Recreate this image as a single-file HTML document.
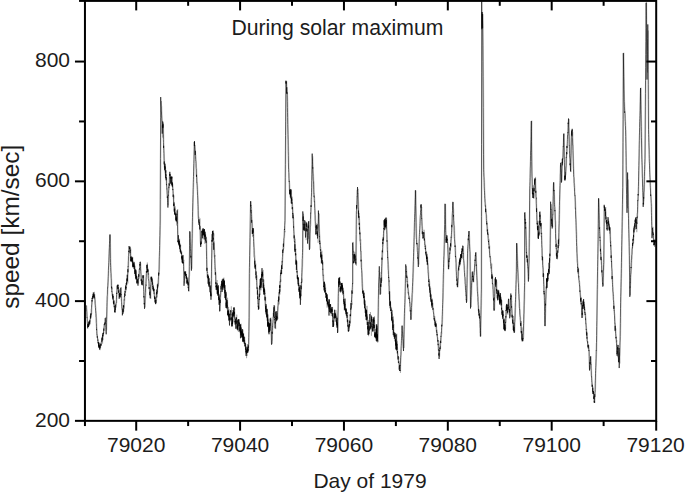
<!DOCTYPE html>
<html><head><meta charset="utf-8"><style>
html,body{margin:0;padding:0;background:#fff;}
body{width:685px;height:492px;overflow:hidden;}
svg{display:block;}
text{font-family:"Liberation Sans",sans-serif;fill:#1c1c1c;}
</style></head><body>
<svg width="685" height="492" viewBox="0 0 685 492">
<rect width="685" height="492" fill="#fff"/>
<polyline points="86.8,305.4 87.0,309.3 87.2,311.0 87.4,315.4 87.6,318.1 87.8,323.0 88.0,324.6 88.1,326.3 88.3,326.7 88.5,324.0 88.7,322.7 89.0,325.1 89.2,323.9 89.4,320.9 89.6,323.4 89.8,323.5 89.9,321.2 90.1,324.4 90.3,321.4 90.5,319.4 90.7,319.1 90.9,317.0 91.1,317.7 91.3,314.7 91.6,314.1 91.8,314.0 92.0,309.1 92.2,305.6 92.4,301.9 92.6,299.4 92.8,298.7 93.0,297.8 93.2,297.0 93.4,297.3 93.6,294.9 93.8,298.2 94.0,294.3 94.2,298.3 94.4,291.8 94.6,294.8 94.8,294.3 95.0,296.3 95.2,299.5 95.4,299.6 95.6,303.9 95.8,307.0 96.0,307.4 96.2,311.4 96.4,313.3 96.6,317.2 96.8,322.2 97.0,326.6 97.2,329.2 97.3,333.8 97.5,334.7 97.7,338.6 97.9,338.4 98.1,338.5 98.3,341.8 98.5,341.8 98.7,343.4 98.9,343.5 99.1,344.9 99.3,342.7 99.5,343.3 99.7,343.1 99.9,348.4 100.1,350.2 100.3,349.2 100.5,348.2 100.7,347.5 100.9,345.6 101.1,344.2 101.3,345.6 101.5,343.4 101.7,342.5 102.0,342.0 102.2,339.8 102.4,339.0 102.6,343.7 102.8,337.3 103.0,340.1 103.2,336.6 103.4,331.7 103.6,334.2 103.8,332.6 104.0,333.0 104.2,330.0 104.4,330.2 104.6,327.1 104.8,325.2 105.0,323.6 105.2,322.1 105.4,323.6 105.6,322.0 105.8,316.9 106.0,323.4 106.2,324.5 106.4,328.1 106.6,330.4 106.8,329.5 107.0,322.9 107.2,316.3 107.4,307.0 107.6,300.0 107.8,296.0 108.0,290.4 108.2,286.7 108.4,284.2 108.6,277.8 108.8,273.6 109.0,267.1 109.3,262.8 109.5,255.7 109.7,249.9 109.9,248.3 110.1,243.4 110.2,240.3 110.4,234.6 110.6,243.5 110.8,253.2 111.0,262.3 111.2,267.3 111.4,273.5 111.6,277.0 111.8,280.7 112.0,289.4 112.1,287.5 112.3,292.7 112.5,292.8 112.7,294.1 112.9,298.0 113.1,295.0 113.3,294.3 113.5,296.4 113.7,300.0 114.0,300.8 114.2,301.7 114.4,304.5 114.6,306.3 114.8,308.6 115.0,308.6 115.2,310.8 115.4,312.5 115.6,307.9 115.8,304.2 116.0,307.5 116.2,304.5 116.4,304.0 116.6,302.5 116.8,302.8 117.0,297.5 117.2,291.6 117.4,290.4 117.6,284.4 117.8,288.0 118.0,288.6 118.2,285.9 118.4,284.6 118.6,285.5 118.8,288.4 119.0,291.7 119.2,294.3 119.4,289.3 119.6,293.8 119.8,294.1 120.0,294.9 120.2,293.9 120.4,297.5 120.6,297.4 120.8,295.1 121.0,294.2 121.2,287.5 121.4,287.2 121.6,295.6 121.8,297.3 122.0,301.8 122.2,304.6 122.4,308.6 122.6,312.2 122.8,308.7 123.0,313.7 123.2,313.1 123.4,306.5 123.7,311.7 123.9,309.7 124.1,307.5 124.3,308.5 124.5,303.8 124.7,301.9 124.9,300.0 125.0,296.0 125.2,294.5 125.4,296.0 125.6,291.6 125.8,292.2 126.1,287.1 126.3,290.3 126.5,287.7 126.7,284.8 126.9,285.2 127.1,283.1 127.3,280.9 127.5,278.2 127.7,280.3 127.9,283.5 128.1,278.0 128.3,272.3 128.5,272.0 128.7,267.1 128.9,260.8 129.1,256.2 129.3,249.4 129.5,248.6 129.7,249.1 129.9,246.2 130.1,246.2 130.3,247.1 130.6,251.0 130.8,248.6 131.0,251.2 131.2,259.5 131.4,260.8 131.6,261.3 131.8,257.5 132.0,260.4 132.2,258.7 132.4,262.1 132.6,259.0 132.8,257.2 133.0,261.5 133.2,261.1 133.4,266.9 133.6,266.5 133.8,262.1 134.0,265.4 134.2,268.9 134.3,266.8 134.6,263.4 134.8,269.2 135.0,265.7 135.2,268.4 135.3,273.8 135.6,269.5 135.8,272.1 136.0,276.5 136.2,271.2 136.3,279.1 136.6,275.4 136.8,280.8 137.0,278.5 137.2,276.3 137.3,283.4 137.6,279.4 137.8,283.4 138.0,284.2 138.2,279.1 138.3,281.4 138.6,283.3 138.8,277.6 139.0,275.4 139.2,278.7 139.3,277.6 139.6,272.9 139.8,269.2 140.0,269.9 140.2,269.3 140.3,262.7 140.6,262.9 140.8,262.8 140.9,265.0 141.2,270.0 141.3,272.6 141.6,278.2 141.8,281.1 141.9,284.2 142.2,282.9 142.3,284.0 142.6,285.2 142.8,285.3 142.9,282.6 143.2,280.9 143.3,278.0 143.6,276.2 143.8,275.3 144.0,281.1 144.2,289.5 144.4,297.5 144.6,297.4 144.8,305.2 145.0,306.9 145.2,307.4 145.3,304.6 145.6,299.4 145.8,295.5 146.0,292.9 146.2,284.4 146.4,286.0 146.6,281.0 146.8,276.6 147.0,272.9 147.2,270.9 147.3,262.5 147.6,271.5 147.8,267.7 148.0,271.7 148.2,269.3 148.4,275.1 148.6,273.0 148.8,273.8 149.0,277.8 149.2,278.9 149.3,279.9 149.6,284.9 149.8,286.9 150.0,288.4 150.2,291.5 150.4,292.4 150.6,294.9 150.8,298.9 151.0,293.1 151.2,289.2 151.4,285.2 151.6,281.2 151.8,276.6 152.0,280.2 152.2,278.1 152.4,278.4 152.6,280.4 152.8,282.4 153.0,286.4 153.2,284.9 153.4,285.6 153.6,287.7 153.8,291.6 154.0,288.5 154.2,290.7 154.4,289.3 154.6,293.4 154.8,295.4 155.0,299.6 155.2,297.1 155.4,299.7 155.6,301.1 155.8,298.9 156.0,304.2 156.2,302.7 156.4,300.2 156.6,300.6 156.8,296.9 157.0,293.2 157.2,297.4 157.4,290.8 157.6,292.3 157.8,289.4 157.9,283.3 158.2,285.8 158.4,286.2 158.6,285.0 158.8,282.4 159.0,277.8 159.2,273.1 159.4,273.7 159.6,269.9 159.8,258.4 160.0,253.0 160.2,245.3 160.4,236.0 160.6,225.3 160.8,199.4 160.9,158.2 161.2,117.0 161.4,101.0 161.6,106.1 161.8,106.0 162.0,111.4 162.2,116.0 162.4,119.5 162.6,123.3 162.8,137.6 162.9,123.9 163.1,128.3 163.3,122.5 163.5,124.4 163.7,132.9 163.9,138.2 164.1,148.2 164.3,151.7 164.5,156.6 164.7,162.6 164.9,166.6 165.1,164.4 165.3,172.5 165.5,166.4 165.8,172.6 166.0,170.4 166.2,176.2 166.4,174.5 166.6,177.4 166.8,178.3 167.0,188.8 167.2,188.3 167.4,191.0 167.6,194.2 167.8,194.0 168.0,195.8 168.2,203.4 168.4,205.4 168.6,202.4 168.8,193.7 169.0,193.0 169.2,189.9 169.4,189.1 169.6,184.1 169.8,185.7 170.0,175.2 170.2,175.9 170.5,174.0 170.7,175.6 170.9,179.1 171.1,182.7 171.3,184.2 171.5,180.9 171.7,183.6 171.9,176.8 172.1,178.5 172.3,176.6 172.5,182.9 172.7,183.9 172.9,183.9 173.1,186.7 173.3,191.1 173.5,191.5 173.7,198.6 173.9,195.4 174.1,201.1 174.3,209.8 174.5,206.7 174.7,209.1 174.9,210.1 175.1,206.7 175.3,206.3 175.5,212.1 175.7,212.4 175.9,215.3 176.1,218.5 176.3,213.1 176.5,215.6 176.7,225.5 176.9,222.1 177.1,221.8 177.3,223.3 177.5,214.0 177.7,209.0 177.8,213.4 178.0,224.9 178.2,235.8 178.4,242.8 178.6,241.4 178.8,239.6 179.0,239.0 179.2,242.3 179.4,241.7 179.6,238.7 179.8,244.9 180.0,248.8 180.2,244.6 180.5,246.9 180.7,244.9 180.9,252.2 181.1,254.0 181.3,251.8 181.5,253.8 181.7,251.4 181.9,252.7 182.1,254.7 182.3,258.6 182.5,259.0 182.7,263.6 182.9,262.5 183.1,261.8 183.3,254.9 183.5,259.3 183.7,261.4 183.9,259.8 184.1,266.2 184.3,272.8 184.5,281.0 184.7,283.5 184.9,281.1 185.1,273.6 185.3,271.7 185.5,274.5 185.7,271.2 185.9,271.9 186.1,275.2 186.3,274.0 186.5,274.3 186.7,278.7 187.0,282.0 187.2,279.0 187.4,277.4 187.6,281.4 187.8,283.1 188.0,277.5 188.2,285.9 188.4,283.0 188.6,283.4 188.8,284.3 188.9,289.1 189.1,291.4 189.3,285.5 189.5,276.8 189.7,275.0 189.9,260.5 190.1,245.2 190.3,231.8 190.5,237.7 190.7,240.4 190.9,247.3 191.1,251.1 191.3,257.5 191.5,259.7 191.7,264.6 191.9,268.8 192.1,266.0 192.3,254.5 192.5,243.3 192.7,233.7 192.9,221.9 193.1,211.6 193.3,203.6 193.5,194.4 193.7,188.0 193.9,179.9 194.1,172.1 194.3,162.9 194.5,153.9 194.7,146.7 195.0,145.2 195.2,145.3 195.4,150.6 195.6,151.5 195.8,155.2 196.0,155.0 196.2,159.1 196.4,161.0 196.6,168.2 196.8,168.3 197.0,176.5 197.2,177.5 197.4,183.6 197.6,184.4 197.8,188.9 198.0,193.7 198.2,198.2 198.4,203.7 198.6,210.7 198.8,217.5 199.0,216.9 199.2,219.8 199.4,222.9 199.6,224.4 199.8,223.6 200.0,218.3 200.2,225.4 200.4,227.3 200.6,231.8 200.8,237.8 201.0,244.2 201.2,242.3 201.4,243.7 201.6,242.3 201.8,241.3 202.0,237.9 202.2,232.7 202.4,231.7 202.6,231.3 202.8,238.4 203.0,229.2 203.2,230.1 203.4,231.6 203.6,228.7 203.8,232.0 204.0,229.6 204.2,233.4 204.4,235.4 204.6,233.1 204.8,243.8 205.0,235.5 205.2,236.9 205.4,240.1 205.6,233.8 205.8,236.1 206.0,237.2 206.2,239.4 206.4,236.7 206.6,238.6 206.8,240.0 207.0,249.7 207.2,258.7 207.3,270.7 207.5,272.9 207.7,272.1 208.0,275.1 208.2,275.0 208.4,275.1 208.6,277.5 208.8,279.8 209.0,279.0 209.2,279.8 209.4,283.6 209.6,284.1 209.8,284.1 210.0,281.4 210.2,286.2 210.4,285.5 210.6,296.4 210.8,285.1 211.0,293.7 211.2,295.9 211.4,294.3 211.6,296.5 211.8,285.1 212.0,272.1 212.2,258.6 212.4,244.4 212.6,244.7 212.8,234.0 212.9,236.9 213.1,234.5 213.3,230.4 213.5,231.1 213.7,236.6 213.9,233.5 214.1,242.0 214.4,241.7 214.6,248.4 214.8,251.2 214.9,256.9 215.1,254.9 215.3,261.9 215.5,268.7 215.7,271.2 215.9,272.2 216.1,273.5 216.3,284.1 216.5,283.6 216.7,293.9 216.9,284.5 217.1,280.0 217.3,288.7 217.5,288.5 217.7,290.3 217.9,293.1 218.2,291.7 218.4,289.4 218.6,293.3 218.8,293.1 219.0,293.2 219.2,299.8 219.4,295.7 219.6,303.2 219.8,299.0 220.0,299.5 220.2,311.1 220.4,306.2 220.6,299.0 220.8,297.1 221.0,294.9 221.2,291.7 221.4,290.9 221.7,291.3 221.9,282.2 222.1,286.4 222.3,284.8 222.5,285.8 222.7,286.9 222.9,280.5 223.1,281.6 223.3,289.7 223.5,285.5 223.7,285.8 223.9,277.6 224.1,288.2 224.3,279.8 224.5,286.4 224.7,284.8 224.9,289.6 225.1,290.7 225.3,290.2 225.5,298.7 225.8,294.0 226.0,296.2 226.2,291.7 226.4,295.4 226.6,307.3 226.8,309.3 227.0,307.9 227.2,308.8 227.4,302.0 227.6,297.7 227.8,306.6 228.0,310.1 228.2,316.5 228.4,311.9 228.6,306.9 228.8,316.9 229.0,309.2 229.2,312.8 229.4,315.3 229.6,313.4 229.8,316.8 230.0,321.6 230.2,318.7 230.5,320.6 230.7,320.4 230.9,316.2 231.1,314.6 231.3,306.3 231.5,313.3 231.7,317.1 231.9,318.4 232.1,319.3 232.3,326.6 232.5,324.1 232.7,321.7 232.9,319.0 233.1,322.3 233.3,314.1 233.5,317.4 233.7,307.8 233.9,315.6 234.1,315.3 234.3,318.7 234.5,310.9 234.7,309.0 234.9,313.6 235.2,318.9 235.4,318.9 235.6,322.6 235.8,324.4 236.0,320.3 236.2,325.0 236.4,329.3 236.6,317.1 236.8,314.6 237.0,319.9 237.2,319.2 237.4,321.6 237.6,321.1 237.8,326.5 238.0,325.9 238.2,327.4 238.4,332.0 238.7,324.4 238.9,320.7 239.1,322.3 239.3,323.8 239.5,322.6 239.7,324.9 239.9,326.5 240.1,332.9 240.3,328.8 240.5,325.8 240.7,331.3 240.9,330.7 241.1,323.7 241.3,328.7 241.5,334.5 241.7,330.8 241.9,329.2 242.1,332.1 242.3,335.6 242.5,337.7 242.8,336.0 243.0,329.6 243.2,336.9 243.4,342.6 243.6,332.9 243.8,338.8 244.0,337.9 244.2,336.6 244.4,340.4 244.6,336.8 244.8,337.2 245.0,340.6 245.2,343.0 245.4,345.5 245.6,347.4 245.8,343.8 246.0,351.1 246.2,350.6 246.4,355.0 246.6,358.2 246.9,350.6 247.1,356.0 247.3,348.4 247.5,344.0 247.7,350.2 247.9,348.3 248.1,352.8 248.2,350.0 248.5,349.5 248.7,350.3 248.8,348.1 249.1,344.4 249.2,338.0 249.5,323.5 249.7,303.1 249.9,273.5 250.1,261.0 250.3,250.8 250.5,236.9 250.7,227.5 250.9,213.7 251.1,201.2 251.2,207.6 251.5,207.1 251.7,208.6 251.8,213.3 252.1,216.3 252.2,218.5 252.4,221.4 252.7,226.0 252.8,236.9 253.1,234.7 253.2,236.1 253.5,229.2 253.7,231.7 253.9,234.7 254.1,238.7 254.2,242.2 254.5,247.3 254.7,254.3 254.8,254.8 255.1,256.7 255.2,262.0 255.4,266.7 255.7,264.8 255.8,263.6 256.1,267.7 256.2,274.6 256.4,275.2 256.7,280.1 256.9,275.3 257.1,280.6 257.2,284.6 257.4,285.5 257.7,290.5 257.9,287.8 258.1,292.6 258.2,295.8 258.4,301.5 258.7,307.5 258.9,308.1 259.1,309.3 259.2,307.1 259.4,301.0 259.6,297.9 259.9,293.5 260.1,294.9 260.2,291.7 260.4,288.9 260.6,284.9 260.9,285.6 261.1,290.3 261.2,286.1 261.4,282.2 261.7,279.8 261.9,279.9 262.1,278.4 262.2,276.8 262.4,271.1 262.6,271.9 262.9,273.5 263.1,270.1 263.2,269.9 263.4,281.9 263.7,286.5 263.9,279.6 264.1,292.0 264.3,287.0 264.5,292.2 264.7,291.2 264.9,289.6 265.1,294.0 265.2,292.8 265.4,300.8 265.7,297.3 265.9,306.6 266.1,309.5 266.3,307.1 266.5,305.6 266.7,318.2 266.9,313.5 267.1,308.6 267.2,315.4 267.4,309.1 267.7,313.1 267.9,323.5 268.1,314.5 268.2,316.9 268.4,324.7 268.6,324.6 268.8,320.5 269.1,319.3 269.2,331.9 269.4,330.3 269.7,324.5 269.9,330.3 270.1,330.4 270.2,327.5 270.5,330.7 270.7,324.4 270.9,317.5 271.1,320.2 271.2,319.7 271.4,327.5 271.7,329.2 271.9,338.7 272.1,344.2 272.2,341.3 272.4,340.5 272.7,332.1 272.9,328.6 273.1,327.7 273.2,323.1 273.4,320.6 273.7,318.7 273.9,318.1 274.1,317.8 274.2,313.2 274.5,307.6 274.7,305.8 274.9,309.5 275.1,319.2 275.2,319.4 275.4,323.5 275.7,329.1 275.9,322.3 276.1,318.7 276.2,322.1 276.5,317.1 276.7,314.3 276.9,315.4 277.1,319.1 277.2,312.7 277.4,318.0 277.7,317.6 277.9,319.2 278.1,313.8 278.2,309.7 278.4,305.1 278.6,305.0 278.8,297.5 279.1,304.4 279.2,298.8 279.4,294.1 279.7,288.8 279.9,294.6 280.1,289.5 280.2,288.4 280.5,291.7 280.7,279.3 280.9,281.8 281.1,273.6 281.2,274.0 281.4,272.0 281.7,273.2 281.9,273.8 282.1,263.5 282.2,269.0 282.5,265.4 282.7,261.1 282.9,258.9 283.1,257.1 283.3,252.2 283.5,250.5 283.7,247.9 283.9,248.4 284.1,247.7 284.3,241.6 284.5,239.3 284.7,236.2 284.9,231.1 285.1,232.2 285.2,222.5 285.4,220.4 285.6,192.2 285.8,163.7 286.1,135.6 286.2,107.9 286.4,80.9 286.6,81.2 286.8,81.2 287.1,86.4 287.2,89.6 287.4,92.0 287.6,94.8 287.9,101.1 288.1,111.7 288.2,124.9 288.4,134.3 288.6,146.4 288.9,154.4 289.1,168.0 289.2,172.6 289.4,179.0 289.7,182.8 289.9,184.7 290.1,191.0 290.2,192.9 290.4,189.9 290.7,192.9 290.9,196.4 291.1,195.0 291.3,193.9 291.5,189.6 291.7,197.2 291.9,201.8 292.1,198.7 292.2,196.7 292.4,202.9 292.6,203.7 292.8,206.4 293.1,207.8 293.2,214.7 293.4,218.4 293.6,217.6 293.8,218.0 294.1,226.2 294.2,230.9 294.4,237.1 294.7,237.0 294.9,243.3 295.1,238.7 295.2,240.2 295.4,245.9 295.7,250.1 295.9,248.8 296.1,254.7 296.2,253.9 296.4,263.0 296.6,261.8 296.9,260.9 297.1,262.0 297.2,267.1 297.4,271.6 297.6,274.4 297.9,276.8 298.1,281.6 298.2,277.5 298.4,277.0 298.7,280.0 298.9,283.3 299.1,284.7 299.2,285.3 299.4,290.6 299.7,292.4 299.9,293.4 300.1,297.7 300.2,293.4 300.4,298.5 300.7,298.6 300.9,300.2 301.1,293.7 301.3,296.0 301.5,292.1 301.7,284.9 301.9,278.6 302.1,282.5 302.2,276.5 302.4,272.9 302.7,266.3 302.9,259.5 303.1,252.2 303.3,230.8 303.5,213.7 303.7,221.6 303.9,228.1 304.1,226.0 304.2,229.7 304.4,228.2 304.7,223.6 304.9,228.3 305.1,224.9 305.2,221.6 305.5,223.9 305.7,221.2 305.9,234.1 306.1,240.2 306.2,236.8 306.4,232.9 306.7,229.2 306.9,227.4 307.1,222.6 307.2,224.7 307.4,226.8 307.7,231.4 307.9,233.1 308.1,237.5 308.2,238.8 308.4,235.4 308.7,231.8 308.9,227.5 309.1,221.0 309.2,230.3 309.4,235.1 309.6,240.7 309.8,249.0 310.1,247.2 310.2,243.2 310.4,233.8 310.6,226.2 310.9,226.1 311.1,219.3 311.2,213.6 311.4,205.9 311.6,205.9 311.8,197.1 312.1,192.8 312.2,181.7 312.4,168.7 312.6,157.3 312.9,156.6 313.1,162.5 313.2,170.7 313.5,172.6 313.7,176.0 313.9,181.0 314.1,181.7 314.2,189.0 314.4,197.9 314.7,197.3 314.9,200.8 315.1,202.8 315.2,208.4 315.5,214.2 315.7,218.8 315.9,225.1 316.1,227.8 316.2,233.9 316.4,229.2 316.7,223.4 316.9,227.4 317.1,224.4 317.2,228.3 317.5,224.3 317.7,235.2 317.9,234.8 318.1,242.8 318.3,233.5 318.5,226.5 318.7,226.2 318.9,217.6 319.1,213.7 319.2,218.4 319.4,223.8 319.6,229.2 319.8,233.6 320.1,236.2 320.2,241.2 320.4,244.3 320.6,247.4 320.9,247.2 321.1,250.3 321.2,256.7 321.4,255.2 321.6,259.5 321.9,250.7 322.1,256.0 322.2,258.2 322.4,258.1 322.6,260.6 322.9,261.7 323.1,262.3 323.2,272.8 323.5,275.8 323.7,274.7 323.9,280.2 324.1,283.1 324.2,283.2 324.5,283.7 324.7,289.8 324.9,285.2 325.1,288.6 325.2,290.7 325.4,288.1 325.7,287.5 325.9,293.1 326.1,293.5 326.2,294.0 326.4,295.7 326.6,300.0 326.9,295.0 327.1,307.7 327.2,302.8 327.4,294.1 327.7,300.6 327.9,300.9 328.1,299.0 328.3,301.1 328.5,299.7 328.7,301.9 328.9,299.4 329.1,299.5 329.2,307.5 329.5,312.0 329.7,310.9 329.9,308.0 330.1,306.7 330.2,312.5 330.4,305.8 330.6,304.1 330.8,304.6 331.1,306.5 331.2,315.9 331.4,307.0 331.6,310.0 331.8,311.7 332.1,311.1 332.2,312.4 332.4,310.6 332.6,306.9 332.9,316.9 333.1,313.0 333.2,320.3 333.4,325.6 333.7,323.5 333.9,325.6 334.1,322.2 334.3,317.7 334.5,316.0 334.7,316.1 334.9,319.0 335.1,321.9 335.3,315.2 335.5,312.6 335.7,318.2 335.9,309.9 336.1,313.2 336.3,319.8 336.4,315.5 336.7,316.0 336.8,321.7 337.1,322.1 337.2,328.0 337.4,317.5 337.7,324.1 337.9,326.2 338.1,332.5 338.3,321.5 338.4,313.0 338.7,303.3 338.8,293.4 339.1,285.6 339.2,286.2 339.4,278.1 339.7,279.3 339.9,276.9 340.1,284.7 340.2,281.7 340.4,283.0 340.6,292.9 340.8,291.4 341.1,286.9 341.2,288.3 341.4,292.1 341.6,284.0 341.9,289.7 342.1,285.4 342.2,283.6 342.4,286.5 342.7,287.6 342.9,295.0 343.1,287.6 343.2,289.0 343.4,292.8 343.7,290.5 343.9,294.3 344.1,295.2 344.2,297.5 344.5,304.0 344.7,303.4 344.9,306.3 345.1,306.1 345.2,309.2 345.5,303.9 345.7,308.7 345.9,315.4 346.1,308.4 346.2,308.8 346.4,309.9 346.7,311.5 346.9,314.2 347.1,314.2 347.2,312.6 347.4,313.9 347.7,312.2 347.9,324.2 348.1,319.9 348.2,322.4 348.4,325.2 348.6,331.3 348.8,327.9 349.1,330.4 349.2,330.0 349.4,330.1 349.7,323.9 349.9,325.9 350.1,321.2 350.2,322.8 350.5,323.6 350.7,319.0 350.9,316.6 351.1,315.5 351.2,308.1 351.4,307.2 351.6,306.6 351.9,302.6 352.1,304.8 352.2,298.2 352.4,292.1 352.7,293.6 352.9,284.0 353.1,283.5 353.2,241.9 353.4,247.4 353.6,252.7 353.8,250.9 353.9,263.2 354.2,262.0 354.4,262.6 354.6,255.5 354.8,252.0 355.0,256.9 355.2,254.3 355.4,256.5 355.6,255.6 355.8,260.2 356.0,258.5 356.2,265.1 356.4,265.7 356.6,245.4 356.8,224.8 357.0,212.0 357.2,208.3 357.4,204.6 357.6,196.2 357.8,189.9 357.9,189.6 358.2,188.9 358.4,194.3 358.6,200.6 358.8,205.1 359.0,219.5 359.2,218.5 359.4,219.0 359.6,219.1 359.8,223.4 360.0,229.3 360.2,231.1 360.4,234.6 360.6,240.7 360.8,239.5 360.9,240.1 361.2,251.7 361.4,251.2 361.6,261.4 361.8,262.6 361.9,267.7 362.2,272.2 362.4,274.3 362.6,281.5 362.8,284.9 363.0,290.2 363.2,293.5 363.4,292.1 363.6,290.7 363.8,290.4 364.0,297.3 364.2,303.7 364.4,292.7 364.6,298.8 364.8,303.3 364.9,305.2 365.2,306.5 365.4,300.5 365.6,305.9 365.8,307.1 365.9,306.5 366.2,313.9 366.4,318.9 366.6,319.0 366.8,318.1 366.9,311.7 367.1,305.8 367.3,319.3 367.6,314.3 367.8,323.2 367.9,321.5 368.1,327.9 368.4,319.9 368.6,336.2 368.8,325.4 368.9,327.8 369.1,330.3 369.3,328.3 369.6,329.8 369.8,325.6 369.9,324.7 370.1,317.6 370.4,312.0 370.6,316.3 370.8,320.7 371.0,323.5 371.2,329.1 371.4,335.8 371.6,325.4 371.8,327.4 371.9,316.6 372.1,324.8 372.4,319.6 372.6,322.5 372.8,324.9 373.0,324.3 373.2,332.2 373.4,326.9 373.6,328.3 373.8,322.5 373.9,318.0 374.1,322.5 374.4,316.2 374.6,320.4 374.8,323.3 375.0,327.4 375.2,331.7 375.4,335.7 375.6,332.1 375.8,333.5 375.9,336.6 376.1,337.5 376.4,336.1 376.6,341.9 376.8,332.6 376.9,324.0 377.2,342.0 377.4,336.6 377.6,342.5 377.8,340.5 377.9,340.0 378.1,342.2 378.4,333.3 378.6,319.0 378.8,307.5 378.9,296.0 379.2,282.4 379.4,277.6 379.6,278.3 379.8,273.7 380.0,271.9 380.2,277.7 380.4,278.1 380.6,285.6 380.8,293.9 381.0,288.2 381.2,287.2 381.4,283.6 381.6,277.0 381.8,281.2 382.0,275.0 382.2,267.5 382.4,262.2 382.6,258.1 382.8,253.9 383.0,252.6 383.2,246.1 383.4,246.0 383.6,241.1 383.8,238.3 384.0,236.4 384.2,233.3 384.4,226.2 384.6,221.7 384.8,223.3 385.0,220.7 385.2,219.4 385.4,221.7 385.6,228.8 385.8,225.7 385.9,221.3 386.1,224.8 386.3,225.7 386.6,217.8 386.8,219.4 386.9,223.9 387.1,230.8 387.4,235.8 387.6,240.9 387.8,244.6 387.9,251.4 388.2,257.6 388.4,261.0 388.6,265.1 388.8,267.8 388.9,274.1 389.1,282.0 389.4,280.3 389.6,284.2 389.8,293.9 389.9,294.1 390.1,296.4 390.4,305.2 390.6,302.3 390.8,304.7 390.9,305.3 391.1,306.8 391.4,310.1 391.6,307.4 391.8,311.4 391.9,310.8 392.2,319.8 392.4,310.2 392.6,316.0 392.8,321.9 393.0,320.9 393.2,325.4 393.4,316.5 393.6,328.9 393.8,324.0 393.9,328.9 394.2,330.7 394.4,334.2 394.6,336.6 394.8,333.0 394.9,341.2 395.1,333.3 395.3,336.6 395.6,332.9 395.8,336.1 395.9,342.7 396.2,342.9 396.4,349.2 396.6,344.1 396.8,333.7 397.0,345.6 397.2,340.8 397.4,347.3 397.6,347.8 397.8,351.0 397.9,352.9 398.2,354.4 398.4,357.2 398.6,358.7 398.8,357.1 399.0,360.9 399.2,362.0 399.4,361.9 399.6,362.9 399.8,368.9 399.9,365.5 400.2,369.3 400.4,372.9 400.6,371.4 400.8,364.1 400.9,363.3 401.2,358.0 401.4,355.7 401.6,348.8 401.8,345.6 401.9,340.5 402.2,336.5 402.4,329.5 402.6,325.7 402.8,328.3 402.9,332.0 403.1,334.3 403.3,339.2 403.6,340.9 403.8,345.9 403.9,348.1 404.2,347.2 404.4,337.5 404.6,329.0 404.8,320.3 405.0,313.5 405.2,307.1 405.4,301.8 405.6,295.1 405.8,288.2 405.9,278.4 406.1,268.9 406.4,265.9 406.6,268.1 406.8,270.7 406.9,271.2 407.1,275.5 407.3,276.4 407.6,277.9 407.8,280.9 407.9,286.6 408.1,284.6 408.4,287.3 408.6,289.3 408.8,292.9 409.0,293.4 409.2,296.5 409.4,296.7 409.6,296.4 409.8,298.2 409.9,300.1 410.2,301.8 410.4,303.8 410.6,309.3 410.8,311.6 410.9,309.9 411.1,315.7 411.3,319.4 411.6,316.3 411.8,310.7 411.9,307.0 412.1,303.3 412.4,301.4 412.6,294.2 412.8,293.1 413.0,286.4 413.2,282.6 413.4,278.0 413.6,272.6 413.8,265.0 413.9,259.8 414.1,252.7 414.4,245.8 414.6,237.6 414.8,231.2 415.0,223.3 415.2,217.3 415.4,210.8 415.6,202.8 415.8,197.5 415.9,190.5 416.1,200.0 416.4,211.0 416.6,222.3 416.8,233.9 417.0,238.8 417.2,244.6 417.4,244.5 417.6,244.6 417.8,247.0 418.0,249.4 418.2,254.3 418.4,257.2 418.6,261.6 418.8,264.5 419.0,264.6 419.2,256.1 419.4,251.0 419.6,243.8 419.8,238.3 420.0,232.1 420.2,230.0 420.4,227.2 420.6,221.2 420.8,217.1 421.0,215.9 421.2,209.9 421.4,210.7 421.6,208.3 421.8,207.0 422.0,212.8 422.2,218.8 422.4,222.6 422.6,227.0 422.8,229.9 422.9,231.8 423.2,237.2 423.4,237.6 423.6,235.0 423.8,238.1 423.9,235.3 424.1,229.7 424.3,231.3 424.6,234.7 424.8,238.3 424.9,239.3 425.2,241.1 425.4,244.0 425.6,244.6 425.8,246.0 425.9,249.0 426.2,252.1 426.4,251.9 426.6,251.3 426.8,255.6 426.9,257.7 427.2,253.8 427.4,256.1 427.6,257.1 427.8,259.6 428.0,263.3 428.2,264.1 428.4,265.5 428.6,270.3 428.8,271.7 428.9,275.1 429.2,283.5 429.4,278.9 429.6,280.9 429.8,282.9 430.0,288.6 430.2,290.3 430.4,293.3 430.6,287.7 430.8,293.1 431.0,294.3 431.2,297.0 431.4,297.1 431.6,301.4 431.8,302.8 432.0,299.9 432.2,304.7 432.4,298.6 432.6,305.5 432.8,302.7 433.0,304.7 433.2,305.8 433.4,308.2 433.6,308.6 433.8,310.6 434.0,313.2 434.2,313.7 434.4,315.2 434.6,319.1 434.8,316.2 435.0,321.7 435.2,321.2 435.4,322.0 435.6,324.1 435.8,320.6 435.9,325.9 436.2,325.6 436.4,327.0 436.6,326.0 436.8,328.3 436.9,328.9 437.2,330.1 437.4,331.3 437.6,338.1 437.8,337.7 438.0,337.8 438.2,340.8 438.4,340.5 438.6,343.9 438.8,344.6 439.0,350.5 439.2,350.8 439.4,353.3 439.6,356.8 439.8,355.0 439.9,351.5 440.2,349.9 440.4,345.9 440.6,348.9 440.8,342.0 440.9,341.6 441.2,343.1 441.4,338.0 441.6,336.1 441.8,333.2 441.9,333.5 442.1,328.4 442.3,325.7 442.6,322.6 442.8,316.2 442.9,311.6 443.1,303.3 443.4,297.9 443.6,288.1 443.8,280.1 444.0,271.6 444.2,263.6 444.4,256.5 444.6,250.8 444.8,243.8 444.9,234.2 445.2,226.1 445.4,214.0 445.6,204.0 445.8,210.9 445.9,218.8 446.1,229.9 446.3,234.6 446.6,242.3 446.8,241.0 446.9,238.7 447.1,239.2 447.4,235.5 447.6,239.2 447.8,241.8 448.0,244.1 448.2,244.3 448.4,249.8 448.6,257.1 448.8,263.1 448.9,269.3 449.1,264.7 449.4,259.9 449.6,258.4 449.8,258.9 450.0,256.3 450.2,253.1 450.4,253.6 450.6,248.8 450.8,246.9 450.9,243.4 451.1,247.4 451.4,242.3 451.6,237.8 451.8,237.6 451.9,234.3 452.2,231.1 452.4,227.1 452.6,221.6 452.8,213.4 453.0,212.9 453.2,206.4 453.4,202.1 453.6,208.4 453.8,209.4 453.9,215.5 454.1,221.7 454.4,225.8 454.6,226.0 454.8,232.4 455.0,238.8 455.2,241.4 455.4,245.5 455.6,246.5 455.8,249.9 455.9,256.5 456.1,257.4 456.4,260.0 456.6,263.6 456.8,271.0 456.9,275.3 457.2,280.8 457.4,278.2 457.6,283.1 457.8,281.2 457.9,287.3 458.1,283.4 458.4,280.7 458.6,276.0 458.8,270.9 458.9,270.3 459.2,268.6 459.4,267.8 459.6,266.1 459.8,264.8 459.9,263.9 460.2,262.1 460.4,265.3 460.6,260.6 460.8,261.2 460.9,259.3 461.1,259.9 461.4,259.8 461.6,254.7 461.8,257.1 461.9,255.4 462.1,258.7 462.4,254.4 462.6,249.4 462.8,251.8 462.9,250.9 463.2,247.6 463.4,246.1 463.6,247.9 463.8,253.1 463.9,258.4 464.1,259.9 464.4,263.2 464.6,264.4 464.8,270.0 464.9,271.9 465.2,276.7 465.4,276.9 465.6,281.9 465.8,286.8 465.9,286.2 466.1,290.6 466.4,293.2 466.6,295.5 466.8,301.9 466.9,301.5 467.2,299.2 467.4,288.5 467.6,277.7 467.8,269.6 468.0,259.9 468.2,250.5 468.4,244.8 468.6,244.1 468.8,237.4 469.0,236.6 469.2,236.2 469.4,231.0 469.6,235.2 469.8,238.0 469.9,242.8 470.1,246.5 470.3,250.1 470.6,261.8 470.8,280.2 470.9,299.5 471.2,307.1 471.4,300.6 471.6,297.8 471.8,295.2 472.0,287.8 472.2,282.3 472.4,280.6 472.6,277.4 472.8,271.9 472.9,273.0 473.2,276.0 473.4,278.7 473.6,280.2 473.8,282.2 474.0,278.8 474.2,275.5 474.4,275.4 474.6,271.7 474.8,271.2 474.9,268.2 475.2,265.3 475.4,262.1 475.6,259.6 475.8,256.8 476.0,256.4 476.2,252.2 476.4,255.9 476.6,260.2 476.8,266.4 476.9,269.0 477.2,273.1 477.4,278.3 477.6,280.6 477.8,287.5 478.0,291.5 478.2,294.1 478.4,296.8 478.6,303.4 478.8,306.6 478.9,311.1 479.2,309.8 479.4,310.5 479.6,317.0 479.8,315.3 480.0,317.1 480.2,316.6 480.4,321.4 480.6,328.5 480.8,332.9 480.9,336.4 481.1,327.3 481.4,315.7 481.6,305.4 481.8,294.5 481.9,216.6 482.2,72.9 482.3,14.7 482.6,12.1 482.8,28.3 482.9,14.1 483.1,24.5 483.4,45.2 483.6,76.8 483.8,107.4 484.0,139.1 484.2,169.8 484.4,176.7 484.6,179.6 484.8,187.6 484.9,190.6 485.1,194.4 485.4,199.1 485.6,202.9 485.8,205.4 485.9,205.8 486.1,210.8 486.3,211.0 486.6,214.7 486.8,215.9 486.9,219.9 487.1,220.5 487.4,223.1 487.6,226.2 487.8,229.1 487.9,229.6 488.1,232.0 488.4,233.2 488.6,237.7 488.8,238.2 488.9,240.6 489.1,239.6 489.4,242.7 489.6,246.4 489.8,245.8 489.9,251.0 490.2,254.4 490.4,255.6 490.6,257.7 490.8,258.1 491.0,262.6 491.2,262.6 491.4,267.5 491.6,266.4 491.8,263.6 492.0,273.3 492.2,273.9 492.4,279.5 492.6,275.6 492.8,276.0 492.9,283.7 493.1,283.7 493.4,285.8 493.6,289.5 493.8,295.8 493.9,300.0 494.2,297.4 494.4,309.9 494.6,309.8 494.8,307.9 495.0,303.0 495.2,297.3 495.4,286.2 495.6,281.9 495.8,280.7 496.0,282.4 496.2,280.2 496.4,284.5 496.6,279.9 496.8,283.0 497.0,282.8 497.2,290.8 497.4,291.8 497.6,291.2 497.8,296.4 497.9,298.8 498.1,298.3 498.3,296.3 498.6,299.8 498.8,290.0 498.9,290.8 499.1,293.6 499.4,296.3 499.6,297.2 499.8,299.5 499.9,299.3 500.2,295.3 500.4,297.3 500.6,296.4 500.8,301.2 500.9,299.6 501.1,299.8 501.4,298.8 501.6,304.9 501.8,300.3 501.9,303.2 502.2,308.5 502.4,310.7 502.6,311.9 502.8,315.3 502.9,315.6 503.1,312.7 503.3,310.4 503.6,314.5 503.8,320.1 503.9,324.5 504.2,319.3 504.4,318.4 504.6,321.8 504.8,328.9 505.0,325.0 505.2,328.3 505.4,327.2 505.6,329.3 505.8,328.7 505.9,323.2 506.2,322.5 506.4,316.7 506.6,309.2 506.8,309.1 507.0,307.0 507.2,306.5 507.4,305.6 507.6,308.4 507.8,308.8 507.9,314.8 508.2,311.2 508.4,307.9 508.6,309.1 508.8,306.2 509.0,299.0 509.2,302.1 509.4,304.7 509.6,307.3 509.8,307.3 510.0,313.2 510.2,313.1 510.4,316.7 510.6,313.3 510.8,307.9 510.9,303.0 511.1,300.7 511.3,295.9 511.6,295.2 511.8,301.9 511.9,301.5 512.1,306.5 512.4,311.5 512.5,317.9 512.8,315.6 512.9,320.6 513.1,322.6 513.4,316.0 513.5,323.0 513.8,326.0 513.9,322.5 514.1,331.6 514.3,326.6 514.5,331.4 514.7,332.3 514.9,330.8 515.1,322.9 515.3,320.5 515.5,313.9 515.8,307.0 515.9,302.8 516.1,297.7 516.3,287.8 516.5,279.6 516.7,273.1 516.9,262.0 517.1,243.3 517.4,249.8 517.5,253.6 517.8,259.7 518.0,262.8 518.1,268.2 518.4,272.0 518.5,276.9 518.8,280.9 518.9,282.4 519.1,288.8 519.3,293.4 519.5,301.3 519.7,302.0 519.9,307.7 520.1,310.8 520.3,315.3 520.5,316.6 520.8,318.0 520.9,322.4 521.1,326.0 521.4,321.1 521.5,328.5 521.8,331.6 521.9,333.8 522.1,327.4 522.4,332.7 522.5,332.9 522.8,339.4 522.9,337.9 523.1,341.3 523.3,338.6 523.5,338.8 523.8,336.3 523.9,331.3 524.1,324.1 524.3,314.3 524.5,305.8 524.8,299.3 524.9,290.3 525.1,282.6 525.2,212.0 525.4,216.5 525.6,221.5 525.9,222.9 526.0,222.1 526.2,227.2 526.4,235.0 526.6,240.4 526.8,248.5 527.0,252.8 527.2,254.3 527.4,256.0 527.6,261.4 527.8,263.5 528.0,264.7 528.2,268.5 528.4,267.9 528.6,273.6 528.8,279.4 529.0,276.1 529.2,267.0 529.4,262.7 529.6,246.8 529.9,229.4 530.0,210.7 530.2,189.0 530.5,181.2 530.6,173.6 530.8,166.8 531.0,155.4 531.2,148.6 531.4,141.0 531.6,129.8 531.8,120.6 532.0,142.1 532.2,162.2 532.4,177.2 532.6,181.2 532.8,188.9 533.0,191.4 533.2,185.2 533.4,187.9 533.6,193.0 533.8,194.6 534.0,198.7 534.2,196.3 534.4,192.7 534.6,189.9 534.8,189.6 535.0,186.8 535.2,183.5 535.4,176.9 535.6,177.3 535.9,183.5 536.0,185.7 536.2,190.9 536.4,199.3 536.6,197.7 536.8,207.0 537.0,211.9 537.2,212.1 537.4,224.9 537.6,220.9 537.9,225.1 538.0,232.9 538.2,228.7 538.5,225.2 538.6,235.6 538.9,233.5 539.0,233.7 539.2,234.8 539.4,232.8 539.6,228.2 539.8,221.8 540.0,216.3 540.2,211.4 540.4,218.5 540.6,217.5 540.8,223.1 541.0,228.9 541.2,225.5 541.5,223.3 541.6,234.2 541.8,232.8 542.0,236.4 542.2,245.1 542.4,246.8 542.6,257.6 542.9,257.0 543.0,259.2 543.2,265.5 543.4,267.4 543.6,275.4 543.8,274.3 544.0,279.7 544.2,284.5 544.4,291.7 544.6,296.1 544.8,298.3 545.0,306.5 545.2,316.3 545.4,326.1 545.6,317.2 545.8,313.1 546.0,303.7 546.2,298.4 546.4,294.6 546.6,291.3 546.8,286.9 547.0,281.1 547.2,280.8 547.4,288.0 547.6,276.0 547.9,275.9 548.0,275.3 548.2,280.8 548.4,276.3 548.6,275.0 548.8,273.2 549.0,269.6 549.2,274.1 549.4,266.5 549.6,267.8 549.9,267.4 550.0,259.7 550.2,260.2 550.4,254.3 550.6,242.6 550.8,227.7 551.0,209.9 551.2,204.1 551.4,205.8 551.6,209.9 551.8,215.1 552.0,219.9 552.2,224.2 552.4,226.9 552.6,225.7 552.8,227.3 553.0,219.2 553.2,215.4 553.4,206.7 553.6,196.3 553.8,189.7 554.0,182.4 554.2,191.3 554.4,190.4 554.6,194.4 554.8,200.1 555.0,205.7 555.2,207.5 555.4,211.4 555.6,220.1 555.9,221.8 556.0,231.8 556.2,239.5 556.5,245.2 556.6,243.5 556.8,249.8 557.0,255.2 557.2,254.2 557.4,259.4 557.6,258.6 557.8,253.3 558.0,252.9 558.2,252.6 558.5,250.2 558.6,243.9 558.9,238.6 559.0,246.1 559.2,236.7 559.4,227.8 559.6,220.1 559.9,210.1 560.0,202.1 560.2,194.5 560.5,185.4 560.6,179.3 560.9,172.8 561.0,164.5 561.2,168.3 561.4,169.4 561.6,176.0 561.8,181.7 562.0,180.0 562.2,175.1 562.4,167.0 562.6,164.0 562.8,162.7 563.0,160.0 563.2,159.4 563.4,157.1 563.6,150.2 563.8,145.6 564.0,137.3 564.2,133.5 564.4,142.0 564.6,148.4 564.8,158.1 565.0,166.9 565.2,175.7 565.4,171.9 565.6,175.7 565.8,175.6 566.0,174.8 566.2,171.3 566.5,169.3 566.6,167.7 566.8,157.4 567.0,153.3 567.2,154.2 567.4,145.1 567.6,144.7 567.9,139.6 568.0,136.0 568.2,134.0 568.5,132.7 568.6,123.8 568.8,124.1 569.0,119.0 569.2,126.3 569.4,133.7 569.6,138.5 569.8,144.0 570.0,155.8 570.2,158.1 570.4,160.7 570.6,160.6 570.8,167.3 571.0,172.1 571.2,162.0 571.4,156.6 571.6,146.5 571.8,137.0 572.0,132.9 572.2,135.8 572.4,131.2 572.6,131.9 572.9,131.9 573.0,137.7 573.2,145.4 573.4,152.2 573.6,158.0 573.8,165.7 574.0,169.2 574.2,176.4 574.4,178.6 574.6,183.6 574.9,186.6 575.0,191.7 575.2,195.1 575.4,195.2 575.6,200.3 575.9,207.3 576.0,210.8 576.2,217.2 576.5,222.5 576.6,227.9 576.9,233.8 577.0,243.0 577.2,247.0 577.4,253.4 577.6,259.1 577.8,261.1 578.0,263.2 578.2,267.3 578.4,272.8 578.6,268.2 578.9,273.7 579.0,277.0 579.2,276.1 579.4,281.4 579.6,281.0 579.9,283.1 580.0,287.2 580.2,288.6 580.4,290.2 580.6,294.2 580.8,295.6 581.0,297.9 581.2,298.5 581.4,297.6 581.6,304.4 581.8,304.3 582.0,308.1 582.2,309.8 582.4,317.5 582.6,317.9 582.8,315.9 583.0,307.9 583.2,306.8 583.4,303.1 583.6,300.5 583.9,301.2 584.0,301.8 584.2,306.3 584.5,301.9 584.6,306.9 584.9,307.0 585.0,309.0 585.2,310.1 585.4,313.5 585.6,312.7 585.8,315.7 586.0,319.4 586.2,323.7 586.4,325.7 586.6,327.0 586.9,331.6 587.0,336.5 587.2,333.0 587.5,338.8 587.6,343.4 587.9,341.4 588.0,343.2 588.2,346.9 588.4,346.7 588.6,347.4 588.8,345.1 589.0,347.5 589.2,347.5 589.4,347.7 589.6,356.1 589.8,365.3 590.0,369.3 590.2,366.7 590.4,363.5 590.6,363.4 590.8,361.4 591.0,356.2 591.2,361.2 591.4,363.0 591.6,368.7 591.8,375.3 592.0,376.5 592.2,379.9 592.4,384.3 592.6,386.6 592.9,387.2 593.0,386.7 593.2,391.2 593.4,392.3 593.6,391.7 593.8,394.0 594.0,395.2 594.2,398.8 594.4,395.9 594.6,400.9 594.9,402.9 595.0,401.8 595.2,392.9 595.4,392.1 595.6,389.7 595.8,381.8 596.0,373.1 596.2,366.5 596.4,362.6 596.6,356.2 596.8,350.4 597.0,342.1 597.2,326.3 597.4,313.2 597.6,296.7 597.9,284.6 598.0,271.1 598.2,260.1 598.4,246.2 598.6,231.5 598.8,214.2 599.0,198.4 599.2,205.5 599.4,212.3 599.6,218.3 599.8,227.4 600.0,227.0 600.2,233.6 600.4,235.9 600.6,244.4 600.9,247.2 601.0,250.3 601.2,251.0 601.4,260.5 601.6,259.1 601.8,261.0 602.0,264.0 602.2,270.6 602.4,272.0 602.6,275.8 602.8,277.7 603.0,284.0 603.2,284.7 603.4,285.7 603.6,279.6 603.8,270.5 604.0,269.4 604.2,263.8 604.5,239.6 604.6,217.3 604.9,210.3 605.0,211.1 605.2,209.8 605.5,208.0 605.6,208.2 605.9,207.3 606.0,216.7 606.2,216.5 606.5,217.2 606.6,218.4 606.9,218.6 607.0,226.2 607.2,225.0 607.4,231.0 607.6,229.3 607.8,226.7 608.0,223.4 608.2,219.5 608.4,218.6 608.6,218.6 608.8,226.0 609.0,222.6 609.2,223.5 609.4,225.8 609.6,230.5 609.8,233.7 610.0,229.7 610.2,227.7 610.4,229.2 610.6,233.7 610.8,242.1 611.0,241.6 611.2,245.1 611.4,250.6 611.6,258.4 611.8,260.5 612.0,263.7 612.2,268.3 612.4,271.2 612.6,275.9 612.8,280.0 613.0,284.6 613.2,289.1 613.4,295.3 613.6,294.9 613.8,299.7 614.0,301.1 614.2,304.5 614.4,308.1 614.6,313.2 614.9,313.8 615.0,316.3 615.2,320.5 615.4,325.1 615.6,330.3 615.8,328.4 616.0,329.6 616.2,335.6 616.5,336.5 616.6,341.7 616.9,340.3 617.0,344.3 617.2,351.4 617.4,353.6 617.6,356.6 617.8,350.1 618.0,347.7 618.2,348.5 618.4,345.0 618.6,351.7 618.8,358.4 619.0,362.4 619.2,354.9 619.4,352.3 619.6,357.8 619.9,363.5 620.0,356.9 620.2,353.6 620.4,341.4 620.6,336.4 620.9,323.4 621.0,308.3 621.2,295.7 621.4,287.2 621.6,278.3 621.8,268.4 622.0,257.7 622.2,244.1 622.4,233.9 622.6,222.6 622.9,209.6 623.0,199.5 623.2,187.6 623.4,142.5 623.6,96.9 623.8,52.7 624.0,64.0 624.2,76.2 624.4,89.3 624.6,99.9 624.9,105.7 625.0,107.9 625.2,110.2 625.4,113.0 625.6,119.5 625.9,127.1 626.0,129.8 626.2,136.7 626.4,150.3 626.6,166.3 626.8,181.7 627.0,191.1 627.2,199.3 627.4,208.2 627.6,205.3 627.8,193.2 628.0,179.3 628.2,180.1 628.4,191.5 628.6,199.1 628.8,209.2 629.0,219.3 629.2,228.7 629.4,238.6 629.6,246.9 629.8,255.4 630.0,271.7 630.2,289.7 630.4,295.4 630.6,285.7 630.8,283.4 631.0,278.0 631.2,274.7 631.4,271.6 631.6,269.6 631.8,263.8 632.0,259.9 632.2,256.1 632.4,251.8 632.6,247.7 632.8,247.4 633.0,242.3 633.2,244.3 633.5,237.8 633.6,243.3 633.9,237.3 634.0,233.6 634.2,230.2 634.4,231.5 634.6,230.3 634.9,228.1 635.0,224.4 635.2,225.6 635.4,229.5 635.6,220.9 635.8,221.7 636.0,219.6 636.2,219.4 636.4,220.5 636.6,220.3 636.8,232.2 637.0,222.3 637.2,224.0 637.4,216.3 637.6,217.1 637.9,212.1 638.0,211.8 638.2,199.7 638.4,200.0 638.6,194.7 638.8,190.4 639.0,182.0 639.2,170.8 639.4,161.4 639.6,149.6 639.9,141.9 640.0,132.4 640.2,122.4 640.4,114.5 640.6,104.7 640.8,96.8 641.0,87.7 641.2,99.2 641.4,109.8 641.6,120.0 641.8,130.9 642.0,140.9 642.2,153.5 642.4,161.9 642.6,168.2 642.8,177.8 643.0,184.7 643.2,191.4 643.5,196.7 643.6,205.0 643.9,201.8 644.0,201.6 644.2,200.5 644.4,193.3 644.6,186.8 644.8,179.8 645.0,170.9 645.2,165.0 645.4,158.1 645.6,133.1 645.8,106.3 646.0,80.3 646.2,55.1 646.4,28.1 646.6,2.2 646.9,19.4 647.0,37.9 647.2,53.8 647.4,71.1 647.6,72.6 647.8,58.1 648.0,44.8 648.2,30.5 648.4,38.4 648.6,69.8 648.8,99.7 649.0,129.8 649.2,138.5 649.4,145.6 649.6,154.3 649.9,162.1 650.0,165.3 650.2,175.3 650.4,177.9 650.6,183.1 650.8,187.4 651.0,191.1 651.2,194.4 651.4,198.5 651.6,202.5 651.9,206.5 652.0,215.4 652.2,225.6 652.4,234.5 652.6,236.3 652.8,233.2 653.0,226.8 653.2,231.6 653.4,234.3 653.6,234.7 653.8,234.6 654.0,240.6 654.2,242.6 654.4,245.4 654.6,247.0 654.8,241.1 655.0,243.1 655.2,246.2 655.4,240.6" fill="none" stroke="#000" stroke-opacity="0.35" stroke-width="0.6"/><polyline points="86.27,305.37 86.36,307.27 86.46,308.24 86.55,309.16 86.65,311.21 86.74,312.22 86.84,314.92 86.93,317.87 87.03,317.49 87.12,319.40 87.22,321.57 87.31,322.84 87.41,323.99 87.50,324.26 87.59,326.68 87.69,328.37 87.79,325.58 87.89,326.93 87.99,324.20 88.10,325.07 88.20,323.91 88.30,326.51 88.40,324.51 88.50,326.98 88.60,326.58 88.70,325.78 88.81,321.55 88.91,324.77 89.01,325.41 89.11,325.33 89.21,322.48 89.30,323.35 89.40,322.01 89.49,321.62 89.59,323.63 89.68,320.36 89.78,320.82 89.87,321.48 89.97,319.42 90.07,318.92 90.18,318.73 90.28,318.14 90.38,315.71 90.49,317.13 90.59,318.51 90.70,313.69 90.80,316.73 90.90,315.12 91.01,313.48 91.11,314.53 91.22,312.89 91.32,309.16 91.43,308.65 91.53,307.37 91.64,304.83 91.75,303.91 91.85,301.39 91.96,299.88 92.05,301.59 92.15,298.01 92.24,299.05 92.34,297.70 92.43,298.30 92.53,295.96 92.62,296.58 92.72,296.86 92.81,297.11 92.91,298.39 93.02,294.23 93.12,294.81 93.22,296.82 93.33,292.41 93.43,294.56 93.54,294.87 93.64,296.73 93.74,295.58 93.85,293.74 93.95,293.88 94.05,294.29 94.14,297.25 94.24,295.33 94.33,296.12 94.43,297.61 94.52,297.63 94.62,298.16 94.71,297.60 94.81,299.68 94.92,300.65 95.02,303.72 95.13,304.62 95.23,305.35 95.34,307.48 95.45,307.87 95.55,310.71 95.66,311.06 95.75,313.45 95.85,313.76 95.94,317.05 96.04,317.23 96.14,318.84 96.23,322.36 96.33,323.59 96.42,326.38 96.52,330.02 96.61,329.34 96.70,331.41 96.80,333.89 96.89,335.08 96.99,334.88 97.08,335.47 97.18,337.23 97.27,337.63 97.37,336.35 97.46,338.16 97.56,338.93 97.65,339.23 97.75,340.47 97.84,339.73 97.94,342.61 98.03,342.28 98.13,342.79 98.22,342.59 98.32,343.80 98.41,342.15 98.51,344.90 98.61,345.99 98.72,342.69 98.82,347.19 98.92,343.77 99.02,347.58 99.13,345.57 99.23,348.12 99.33,347.47 99.43,345.38 99.54,349.56 99.64,348.44 99.74,347.71 99.85,347.16 99.95,347.06 100.05,345.66 100.16,348.30 100.26,345.74 100.37,346.17 100.47,344.87 100.57,344.84 100.68,343.65 100.78,345.55 100.88,344.49 100.99,345.42 101.09,343.68 101.19,342.24 101.30,342.20 101.40,341.38 101.51,341.60 101.61,340.58 101.71,340.16 101.82,338.22 101.92,339.30 102.02,341.40 102.12,337.78 102.22,336.84 102.33,338.36 102.43,339.45 102.53,335.05 102.63,336.38 102.73,335.38 102.83,333.38 102.93,336.49 103.04,335.02 103.14,334.74 103.24,333.16 103.34,333.96 103.44,332.26 103.53,331.77 103.63,329.70 103.72,328.63 103.82,330.63 103.91,327.55 104.01,327.53 104.10,326.20 104.20,325.16 104.30,324.06 104.41,325.14 104.51,323.31 104.61,323.01 104.72,322.74 104.82,323.86 104.93,322.64 105.03,321.70 105.13,319.83 105.24,318.13 105.34,319.89 105.45,322.33 105.55,323.02 105.66,325.47 105.77,327.49 105.87,329.32 105.98,331.19 106.08,331.60 106.19,334.30 106.28,329.27 106.38,326.77 106.47,322.75 106.57,319.19 106.66,316.02 106.76,311.98 106.85,306.56 106.95,302.42 107.04,299.94 107.14,296.65 107.25,295.53 107.35,294.27 107.45,289.84 107.56,287.33 107.66,287.51 107.77,285.24 107.87,282.89 107.97,281.10 108.08,278.16 108.18,276.43 108.29,273.94 108.39,270.42 108.50,267.02 108.61,265.96 108.71,262.64 108.82,260.18 108.92,256.17 109.03,253.93 109.13,251.02 109.22,248.91 109.32,247.69 109.41,244.58 109.51,243.41 109.60,241.18 109.70,240.53 109.79,235.15 109.89,234.53 109.98,238.92 110.08,243.71 110.17,247.62 110.27,252.94 110.36,258.38 110.46,262.66 110.55,265.29 110.65,267.49 110.74,271.28 110.84,272.79 110.93,273.41 111.03,277.26 111.12,278.66 111.22,280.06 111.31,285.27 111.41,288.24 111.50,287.41 111.60,286.67 111.69,287.94 111.79,291.77 111.88,291.36 111.98,292.16 112.07,292.97 112.17,294.00 112.27,295.86 112.38,295.96 112.48,295.91 112.58,294.29 112.68,297.44 112.79,295.93 112.89,299.48 112.99,295.96 113.09,298.41 113.20,299.15 113.30,299.20 113.40,303.15 113.50,303.56 113.61,301.40 113.71,304.13 113.81,304.33 113.91,300.48 114.02,305.76 114.12,306.09 114.22,307.13 114.32,306.12 114.42,308.20 114.53,309.15 114.63,312.13 114.73,311.18 114.83,310.44 114.93,312.46 115.03,308.28 115.14,307.95 115.24,304.89 115.34,310.11 115.44,308.46 115.54,307.77 115.64,306.74 115.74,305.16 115.85,304.73 115.95,303.31 116.05,302.78 116.15,302.55 116.26,302.63 116.36,299.66 116.47,297.12 116.58,294.69 116.68,292.84 116.79,293.87 116.89,290.72 117.00,288.33 117.10,287.29 117.19,285.46 117.29,287.22 117.38,288.78 117.48,285.93 117.57,285.94 117.67,285.64 117.76,285.99 117.86,284.82 117.96,285.82 118.07,285.54 118.17,289.30 118.27,287.23 118.37,290.33 118.48,292.74 118.58,290.34 118.68,290.62 118.78,292.77 118.89,293.21 118.99,293.59 119.09,295.26 119.18,298.79 119.28,294.41 119.37,294.84 119.47,293.40 119.56,296.55 119.66,293.60 119.75,294.21 119.85,297.37 119.94,294.42 120.04,296.71 120.13,296.48 120.23,293.47 120.32,293.00 120.42,294.35 120.51,289.87 120.61,288.27 120.70,287.74 120.80,290.17 120.91,293.89 121.01,295.01 121.11,294.29 121.22,296.21 121.32,298.49 121.43,301.37 121.53,302.51 121.63,304.89 121.74,306.81 121.84,308.09 121.95,308.85 122.05,310.04 122.16,310.19 122.27,312.03 122.37,315.35 122.48,313.62 122.58,313.31 122.69,313.18 122.79,313.86 122.90,308.71 123.00,308.94 123.10,312.41 123.21,311.36 123.31,308.97 123.42,305.24 123.52,307.00 123.62,305.64 123.73,307.36 123.83,306.36 123.93,304.45 124.02,301.61 124.12,299.72 124.21,300.22 124.31,298.77 124.40,295.95 124.50,296.70 124.59,293.42 124.69,294.49 124.79,295.55 124.89,294.99 124.99,291.19 125.10,292.61 125.20,290.67 125.30,289.53 125.40,289.02 125.50,286.42 125.60,285.51 125.70,289.54 125.81,286.88 125.91,287.12 126.01,288.15 126.11,284.66 126.21,283.20 126.31,284.60 126.41,284.45 126.52,282.22 126.62,284.57 126.72,282.24 126.82,278.62 126.92,278.61 127.02,281.67 127.12,280.34 127.23,274.71 127.33,281.01 127.43,278.81 127.53,277.55 127.63,274.35 127.73,272.44 127.84,269.24 127.94,272.35 128.04,266.51 128.14,266.95 128.25,261.78 128.35,260.89 128.45,256.29 128.55,256.06 128.65,255.93 128.76,250.78 128.86,251.99 128.96,248.62 129.06,246.02 129.17,247.60 129.27,247.91 129.38,249.15 129.48,248.13 129.58,247.60 129.69,249.12 129.79,247.50 129.90,247.05 130.00,250.48 130.10,253.14 130.20,249.74 130.30,253.57 130.40,253.39 130.50,253.82 130.60,258.18 130.70,256.70 130.80,261.39 130.90,258.26 131.00,260.88 131.10,259.93 131.20,258.41 131.30,261.53 131.40,259.48 131.50,261.15 131.60,259.32 131.70,256.54 131.80,258.77 131.90,258.94 132.00,259.04 132.10,257.65 132.20,260.14 132.30,257.69 132.40,263.10 132.50,260.56 132.60,259.96 132.70,264.16 132.80,267.22 132.90,262.94 133.00,266.20 133.10,264.67 133.20,263.53 133.30,267.10 133.40,263.97 133.50,264.00 133.60,267.05 133.70,263.56 133.80,266.32 133.90,262.66 134.00,261.89 134.10,263.87 134.20,269.08 134.30,265.71 134.40,267.60 134.50,267.88 134.60,269.06 134.70,269.65 134.80,274.01 134.90,269.20 135.00,269.02 135.10,272.34 135.20,270.25 135.30,275.28 135.40,275.85 135.50,272.31 135.60,271.77 135.70,274.48 135.80,278.74 135.90,269.85 136.00,277.65 136.10,276.42 136.20,279.63 136.30,275.93 136.40,278.15 136.50,276.28 136.60,277.97 136.70,283.37 136.80,282.83 136.90,280.97 137.00,280.63 137.10,282.16 137.20,281.86 137.30,282.53 137.40,282.20 137.50,281.98 137.60,279.32 137.70,281.64 137.80,281.51 137.90,284.48 138.00,285.65 138.10,280.94 138.20,278.76 138.30,279.24 138.40,277.41 138.50,276.34 138.60,276.79 138.70,274.15 138.80,276.38 138.90,274.25 139.00,274.08 139.10,272.72 139.20,270.58 139.30,269.27 139.40,269.62 139.50,268.15 139.60,268.63 139.70,267.28 139.80,263.95 139.90,265.57 140.00,262.15 140.10,262.52 140.20,262.57 140.30,261.73 140.40,266.48 140.50,268.39 140.60,269.81 140.70,271.28 140.80,273.18 140.90,274.20 141.00,276.98 141.10,278.43 141.20,281.04 141.30,278.82 141.40,282.30 141.50,282.51 141.60,282.30 141.70,282.06 141.80,284.58 141.90,280.25 142.00,285.18 142.10,285.12 142.20,285.12 142.30,284.64 142.40,281.87 142.50,281.53 142.60,282.04 142.70,280.68 142.80,279.29 142.90,275.38 143.00,277.83 143.10,277.88 143.20,275.33 143.30,278.82 143.40,280.95 143.50,286.88 143.60,289.64 143.70,291.25 143.80,297.36 143.90,296.18 144.00,297.75 144.10,300.05 144.20,304.26 144.30,303.01 144.40,305.27 144.50,308.81 144.60,308.07 144.70,305.24 144.80,303.03 144.90,299.73 145.00,298.40 145.10,297.76 145.20,295.37 145.30,293.31 145.40,292.38 145.50,288.16 145.60,287.02 145.70,285.96 145.80,283.75 145.90,281.45 146.00,280.03 146.10,277.51 146.20,276.93 146.30,273.49 146.40,271.07 146.50,272.67 146.60,270.25 146.70,268.93 146.80,265.09 146.90,268.30 147.00,267.93 147.10,267.50 147.20,264.50 147.30,269.04 147.40,272.00 147.50,271.00 147.60,268.94 147.70,270.43 147.80,272.35 147.90,269.66 148.00,271.89 148.10,274.16 148.20,275.64 148.30,278.44 148.40,278.87 148.50,278.92 148.60,280.17 148.70,281.32 148.80,281.46 148.90,283.47 149.00,286.14 149.10,288.97 149.20,287.08 149.30,288.50 149.40,290.13 149.50,291.65 149.60,291.81 149.70,295.20 149.80,291.69 149.90,293.82 150.00,294.57 150.10,297.05 150.20,298.26 150.30,296.59 150.40,293.69 150.50,292.48 150.60,288.89 150.70,285.44 150.80,285.61 150.90,282.50 151.00,279.96 151.10,276.71 151.20,279.36 151.30,277.34 151.40,280.40 151.50,276.95 151.60,277.52 151.70,280.03 151.80,278.73 151.90,281.85 152.00,281.10 152.10,279.74 152.20,282.14 152.30,281.83 152.40,284.74 152.50,282.30 152.60,283.17 152.70,286.79 152.80,285.89 152.90,289.21 153.00,286.48 153.10,287.44 153.20,290.43 153.30,288.20 153.40,287.39 153.50,289.99 153.60,291.26 153.70,289.70 153.80,288.95 153.90,290.00 154.00,293.46 154.10,292.68 154.20,294.49 154.30,295.85 154.40,297.30 154.50,296.45 154.60,298.62 154.70,297.03 154.80,299.16 154.90,297.89 155.00,302.41 155.10,300.75 155.20,299.93 155.30,301.15 155.40,301.89 155.50,304.10 155.60,302.68 155.70,300.57 155.80,300.24 155.90,303.10 156.00,299.60 156.10,296.83 156.20,296.73 156.30,297.37 156.40,293.11 156.50,292.02 156.60,294.39 156.70,292.57 156.80,292.38 156.90,289.71 157.00,293.64 157.10,292.73 157.20,289.32 157.30,289.83 157.40,284.39 157.50,288.72 157.60,286.70 157.70,287.33 157.80,287.26 157.90,284.89 158.00,284.35 158.10,283.89 158.20,280.90 158.30,279.85 158.40,277.92 158.50,276.68 158.60,272.61 158.70,275.49 158.80,272.70 158.90,271.22 159.00,269.08 159.10,264.05 159.20,259.14 159.30,256.52 159.40,252.87 159.50,250.31 159.60,245.47 159.70,239.06 159.80,235.47 159.90,229.21 160.00,225.27 160.10,219.96 160.20,199.45 160.30,179.02 160.40,158.43 160.50,137.93 160.60,117.19 160.70,97.09 160.80,101.67 160.90,104.04 161.00,105.33 161.10,106.63 161.20,106.80 161.30,112.02 161.41,111.96 161.51,114.08 161.61,115.86 161.71,118.60 161.81,119.88 161.91,122.58 162.01,123.04 162.11,126.77 162.21,133.64 162.30,126.14 162.40,125.29 162.49,127.43 162.59,127.71 162.68,121.42 162.78,124.09 162.87,127.58 162.97,124.33 163.06,128.11 163.16,133.82 163.25,134.63 163.35,139.44 163.44,142.43 163.54,147.92 163.65,145.82 163.75,150.67 163.86,153.42 163.96,158.09 164.07,160.48 164.18,164.40 164.28,161.49 164.39,167.34 164.49,166.56 164.59,166.05 164.69,170.29 164.80,166.51 164.90,163.65 165.00,169.39 165.10,166.62 165.20,169.78 165.30,173.43 165.40,173.86 165.51,178.26 165.61,173.56 165.71,170.22 165.81,174.88 165.91,174.49 166.02,175.08 166.12,180.28 166.22,179.03 166.33,177.20 166.43,184.76 166.54,184.16 166.64,186.55 166.74,187.26 166.85,189.78 166.95,189.62 167.05,193.83 167.14,194.20 167.24,196.03 167.33,197.96 167.43,196.36 167.52,200.68 167.62,202.40 167.71,205.17 167.81,205.83 167.92,207.57 168.02,202.60 168.13,198.04 168.24,195.00 168.34,195.49 168.45,193.71 168.55,190.42 168.66,189.66 168.76,186.71 168.87,187.65 168.97,183.44 169.07,183.31 169.18,183.87 169.28,185.61 169.39,176.66 169.49,176.23 169.59,173.91 169.70,175.69 169.80,171.84 169.91,172.92 170.01,175.31 170.12,174.71 170.23,176.18 170.33,178.63 170.44,176.61 170.54,179.43 170.65,183.67 170.75,183.67 170.84,182.16 170.94,177.34 171.03,180.16 171.13,182.84 171.22,181.57 171.32,179.28 171.41,176.54 171.51,178.59 171.61,177.54 171.72,176.84 171.82,178.54 171.92,184.94 172.02,182.65 172.13,185.76 172.23,182.46 172.33,186.75 172.43,183.72 172.54,185.60 172.64,188.18 172.74,189.76 172.83,188.99 172.93,191.34 173.02,193.68 173.12,196.89 173.21,195.34 173.31,194.63 173.40,198.89 173.50,200.99 173.60,202.05 173.70,205.73 173.80,204.17 173.91,206.15 174.01,202.45 174.11,207.90 174.21,211.59 174.31,209.30 174.41,208.89 174.51,209.47 174.62,214.09 174.72,208.59 174.82,211.30 174.92,212.62 175.02,214.83 175.12,212.50 175.22,214.96 175.33,214.12 175.43,215.71 175.53,215.70 175.63,213.83 175.73,217.19 175.83,220.00 175.93,216.10 176.04,218.48 176.14,221.30 176.24,217.70 176.34,221.00 176.44,217.63 176.53,220.51 176.63,221.46 176.72,219.64 176.82,214.17 176.91,214.70 177.01,212.27 177.10,210.97 177.20,210.32 177.29,213.46 177.39,220.51 177.49,224.64 177.58,230.91 177.68,234.94 177.77,239.49 177.87,240.81 177.97,242.28 178.07,240.55 178.18,242.00 178.28,239.43 178.38,235.22 178.48,243.72 178.58,243.37 178.68,242.07 178.78,242.06 178.89,244.88 178.99,241.05 179.09,240.58 179.19,242.60 179.29,246.00 179.39,240.77 179.49,247.21 179.60,243.69 179.70,243.26 179.80,249.17 179.90,246.74 180.00,244.66 180.10,247.37 180.20,250.85 180.31,252.04 180.41,249.06 180.51,251.51 180.61,251.56 180.71,250.09 180.81,252.88 180.91,252.37 181.02,251.58 181.12,252.10 181.22,253.82 181.32,254.14 181.42,253.15 181.52,253.89 181.62,257.88 181.73,256.20 181.83,258.16 181.93,259.29 182.03,257.19 182.13,262.56 182.23,255.84 182.34,259.99 182.44,257.82 182.54,263.19 182.64,263.23 182.75,255.33 182.85,257.98 182.95,262.08 183.05,262.76 183.15,263.05 183.26,261.64 183.36,263.22 183.46,262.90 183.56,266.33 183.65,271.11 183.75,271.99 183.84,278.34 183.94,280.66 184.03,285.79 184.14,283.26 184.24,280.54 184.35,280.57 184.45,276.96 184.56,275.18 184.67,272.48 184.77,272.88 184.88,271.36 184.98,273.74 185.08,271.65 185.18,274.60 185.29,272.81 185.39,272.98 185.49,274.80 185.59,276.22 185.69,273.68 185.79,274.29 185.89,274.87 186.00,275.79 186.10,274.15 186.20,278.57 186.30,276.67 186.40,278.20 186.50,275.95 186.61,278.80 186.71,279.27 186.81,278.01 186.91,283.40 187.01,280.44 187.12,283.69 187.22,282.44 187.32,279.57 187.42,280.54 187.53,282.59 187.63,282.25 187.73,282.55 187.82,283.02 187.92,281.56 188.01,285.02 188.11,282.83 188.20,287.85 188.30,287.08 188.39,288.05 188.49,289.77 188.58,291.17 188.68,286.88 188.77,283.74 188.87,281.54 188.96,277.79 189.06,275.94 189.15,274.60 189.25,266.37 189.34,260.07 189.44,251.99 189.53,245.67 189.62,238.26 189.72,231.28 189.83,234.38 189.93,238.10 190.04,238.97 190.14,241.39 190.25,242.74 190.36,246.85 190.46,248.47 190.57,251.54 190.67,253.39 190.76,257.49 190.86,255.76 190.95,259.76 191.05,263.23 191.14,264.13 191.24,265.87 191.33,268.64 191.43,270.60 191.53,265.78 191.64,261.84 191.74,255.58 191.84,248.70 191.94,243.41 192.05,238.28 192.15,233.76 192.25,227.14 192.35,221.80 192.46,217.39 192.56,211.73 192.66,207.03 192.76,202.39 192.87,197.99 192.97,194.63 193.07,189.34 193.17,187.71 193.28,182.55 193.38,179.41 193.48,176.50 193.58,171.88 193.69,165.93 193.79,163.55 193.89,159.74 193.99,154.12 194.10,149.90 194.20,146.55 194.30,141.93 194.40,146.08 194.50,141.14 194.60,144.35 194.70,146.85 194.80,148.08 194.91,149.87 195.01,151.21 195.11,151.60 195.21,154.94 195.31,150.84 195.41,155.45 195.51,156.29 195.62,159.25 195.72,161.18 195.82,161.44 195.93,163.62 196.03,167.41 196.14,168.61 196.24,169.00 196.34,174.57 196.45,176.76 196.55,174.73 196.65,177.83 196.76,182.80 196.86,182.61 196.96,183.94 197.07,185.45 197.17,187.07 197.28,189.58 197.38,191.20 197.48,194.99 197.59,195.54 197.69,197.94 197.78,200.09 197.88,204.40 197.97,206.70 198.07,210.58 198.16,214.97 198.26,217.24 198.35,218.73 198.45,219.06 198.54,219.09 198.64,219.34 198.73,219.61 198.83,222.42 198.92,219.28 199.02,224.89 199.11,222.79 199.22,221.94 199.32,223.18 199.43,223.50 199.54,225.95 199.64,224.83 199.75,229.42 199.85,226.11 199.96,227.39 200.06,230.48 200.15,231.89 200.25,236.95 200.34,241.04 200.44,243.42 200.53,244.89 200.63,243.06 200.73,246.89 200.84,243.09 200.94,241.47 201.04,242.48 201.14,244.17 201.25,240.93 201.35,237.67 201.45,237.07 201.55,236.57 201.65,233.15 201.76,231.25 201.86,232.42 201.96,230.83 202.06,231.27 202.16,231.85 202.26,238.25 202.36,229.49 202.46,231.67 202.56,231.69 202.66,233.53 202.76,235.40 202.86,231.19 202.95,230.39 203.05,228.20 203.15,230.37 203.25,234.69 203.35,233.43 203.45,230.52 203.55,232.50 203.65,233.81 203.75,235.33 203.85,232.28 203.95,234.02 204.05,229.34 204.15,231.43 204.25,239.42 204.34,229.00 204.44,234.44 204.54,236.25 204.64,234.82 204.74,233.84 204.84,236.20 204.94,236.61 205.04,236.64 205.13,231.74 205.23,236.94 205.33,235.15 205.43,236.28 205.53,238.76 205.63,240.21 205.73,241.21 205.83,237.40 205.92,241.80 206.02,242.78 206.12,242.93 206.22,240.61 206.31,244.93 206.41,250.12 206.50,256.22 206.60,259.49 206.69,266.11 206.79,270.84 206.89,270.79 206.99,267.83 207.10,270.65 207.20,273.53 207.30,276.52 207.40,277.40 207.50,275.20 207.61,275.52 207.71,274.43 207.81,278.31 207.91,277.19 208.02,280.07 208.12,283.75 208.22,279.66 208.32,275.74 208.42,277.99 208.52,276.65 208.63,277.81 208.73,285.54 208.83,282.78 208.93,278.05 209.03,284.86 209.13,287.07 209.23,282.68 209.34,282.14 209.44,283.55 209.54,285.81 209.64,285.76 209.74,289.22 209.84,290.12 209.94,290.87 210.05,292.15 210.15,291.15 210.25,286.27 210.35,290.72 210.45,292.70 210.55,291.69 210.65,295.90 210.76,293.37 210.86,292.69 210.96,299.76 211.06,297.18 211.16,290.62 211.25,284.91 211.35,278.71 211.44,271.76 211.54,263.00 211.63,258.22 211.73,252.09 211.82,245.30 211.92,239.97 212.01,241.90 212.11,236.72 212.20,234.12 212.30,241.19 212.39,233.95 212.49,231.01 212.58,233.80 212.68,233.34 212.77,230.84 212.87,234.47 212.98,232.73 213.08,232.98 213.18,236.90 213.29,239.61 213.39,237.54 213.50,241.15 213.60,241.42 213.70,249.77 213.81,242.52 213.91,246.45 214.01,247.29 214.10,249.00 214.20,252.58 214.30,254.80 214.40,257.42 214.50,257.37 214.59,257.34 214.69,259.32 214.79,263.33 214.88,265.35 214.98,268.89 215.08,268.74 215.18,271.92 215.28,274.72 215.37,273.80 215.47,272.27 215.57,274.76 215.67,276.10 215.76,284.17 215.86,282.20 215.96,287.22 216.07,285.67 216.17,289.79 216.27,288.03 216.37,285.03 216.48,285.24 216.58,286.66 216.68,287.46 216.78,285.74 216.89,287.84 216.99,289.53 217.09,283.25 217.19,290.13 217.30,286.69 217.40,290.70 217.50,293.25 217.60,290.71 217.70,293.84 217.81,286.50 217.91,295.75 218.01,290.55 218.11,294.97 218.22,293.93 218.32,285.30 218.42,293.65 218.52,295.58 218.62,300.11 218.72,297.39 218.83,298.12 218.93,294.29 219.03,303.00 219.13,304.85 219.23,300.73 219.33,300.86 219.43,297.80 219.54,305.53 219.64,311.37 219.74,306.70 219.84,306.35 219.95,304.89 220.05,299.91 220.16,303.00 220.26,295.83 220.37,296.20 220.48,295.44 220.58,294.92 220.69,291.57 220.79,291.97 220.90,287.93 221.00,285.81 221.10,289.42 221.21,286.55 221.31,284.21 221.42,283.82 221.52,285.67 221.62,281.01 221.73,282.03 221.83,284.57 221.93,286.04 222.03,286.61 222.14,291.90 222.24,279.65 222.34,282.26 222.44,287.52 222.55,283.45 222.65,282.87 222.75,289.63 222.85,282.43 222.95,279.43 223.06,278.69 223.16,284.12 223.26,282.96 223.36,278.91 223.46,280.52 223.56,285.65 223.67,286.19 223.77,282.81 223.87,287.14 223.97,287.39 224.07,280.51 224.17,285.46 224.27,288.12 224.38,285.47 224.48,281.06 224.58,287.18 224.68,288.93 224.79,293.41 224.89,285.22 225.00,298.06 225.11,289.97 225.21,296.13 225.32,297.87 225.42,298.32 225.53,297.08 225.63,294.33 225.73,299.97 225.84,296.81 225.94,292.35 226.04,307.98 226.14,302.63 226.25,306.35 226.35,299.32 226.45,306.58 226.55,307.53 226.65,308.04 226.76,304.25 226.86,301.57 226.96,305.42 227.06,300.03 227.16,302.03 227.26,307.61 227.37,305.23 227.47,308.13 227.57,308.89 227.67,315.12 227.77,313.98 227.87,310.90 227.97,314.95 228.08,310.10 228.18,311.93 228.28,315.95 228.38,313.33 228.48,313.65 228.58,310.97 228.68,315.64 228.79,320.52 228.89,313.88 228.99,317.17 229.09,314.27 229.19,313.94 229.29,314.09 229.39,322.41 229.50,325.47 229.60,320.36 229.70,317.26 229.80,320.18 229.91,317.91 230.01,319.49 230.12,317.24 230.23,316.14 230.33,315.83 230.44,312.01 230.54,311.35 230.65,310.21 230.75,311.57 230.86,310.77 230.96,314.79 231.06,314.35 231.17,317.90 231.27,319.95 231.38,317.25 231.48,319.84 231.58,320.86 231.69,325.74 231.79,326.44 231.89,326.46 231.98,322.75 232.08,325.97 232.17,318.19 232.27,324.14 232.36,318.26 232.46,312.46 232.55,323.92 232.65,317.82 232.75,313.61 232.85,316.14 232.95,314.53 233.06,314.75 233.16,310.00 233.26,311.48 233.36,313.87 233.46,312.62 233.56,314.55 233.66,311.03 233.77,316.30 233.87,307.75 233.97,309.66 234.07,307.30 234.18,307.87 234.28,314.36 234.39,312.00 234.50,316.46 234.60,317.16 234.71,317.15 234.81,320.20 234.92,322.32 235.02,320.93 235.12,324.48 235.23,323.97 235.33,320.05 235.43,318.86 235.53,322.24 235.63,320.88 235.74,324.07 235.84,328.74 235.94,323.10 236.04,320.27 236.15,319.65 236.25,317.41 236.35,319.26 236.45,317.65 236.56,319.76 236.66,320.20 236.76,323.77 236.86,321.31 236.97,322.35 237.07,320.21 237.17,328.17 237.27,325.73 237.38,329.57 237.48,325.88 237.58,328.79 237.69,323.77 237.79,325.75 237.89,330.37 238.00,319.71 238.10,325.38 238.21,326.20 238.31,322.39 238.41,322.76 238.52,323.56 238.62,319.40 238.72,321.51 238.83,319.25 238.93,320.49 239.03,321.40 239.14,323.30 239.24,324.76 239.35,326.26 239.45,322.62 239.55,331.42 239.66,330.25 239.76,328.69 239.86,327.45 239.96,328.44 240.06,330.52 240.17,330.32 240.27,324.40 240.37,331.68 240.47,338.24 240.57,324.53 240.67,333.03 240.77,331.40 240.88,330.21 240.98,334.72 241.08,327.50 241.18,331.23 241.28,335.44 241.38,331.43 241.49,331.25 241.59,333.07 241.69,332.00 241.79,337.68 241.90,331.59 242.00,336.70 242.10,331.50 242.20,336.97 242.30,335.34 242.41,329.23 242.51,336.42 242.61,336.28 242.71,335.44 242.81,341.67 242.91,333.34 243.02,333.52 243.12,341.35 243.22,337.20 243.32,341.65 243.42,337.85 243.52,334.09 243.62,336.63 243.73,340.66 243.83,339.76 243.93,336.84 244.03,336.87 244.14,337.67 244.24,337.78 244.35,344.00 244.45,341.12 244.56,339.85 244.67,342.26 244.77,345.79 244.88,345.70 244.98,345.46 245.08,344.57 245.18,346.74 245.29,342.92 245.39,344.30 245.49,350.00 245.59,347.24 245.69,349.81 245.79,352.35 245.89,351.37 246.00,350.24 246.10,355.91 246.20,352.72 246.30,351.32 246.40,353.70 246.50,352.90 246.60,349.46 246.70,352.21 246.80,351.66 246.90,346.71 247.00,351.89 247.10,351.71 247.20,351.40 247.30,348.14 247.40,351.88 247.50,352.98 247.60,352.40 247.70,348.98 247.80,351.87 247.90,347.18 248.00,348.44 248.10,350.82 248.20,345.83 248.30,345.39 248.40,347.87 248.50,344.02 248.60,343.85 248.70,337.65 248.80,331.72 248.90,322.99 249.00,317.59 249.10,302.98 249.20,288.29 249.30,273.58 249.40,267.37 249.50,262.17 249.60,255.29 249.70,249.99 249.80,244.16 249.90,237.33 250.00,231.92 250.10,226.98 250.20,220.01 250.30,213.29 250.40,207.68 250.50,201.25 250.60,203.72 250.70,206.28 250.80,205.07 250.90,207.66 251.00,211.44 251.10,210.32 251.20,213.05 251.30,212.58 251.40,214.50 251.50,216.59 251.60,222.69 251.70,219.93 251.80,221.30 251.90,222.82 252.00,225.07 252.10,228.04 252.20,228.60 252.30,234.05 252.40,230.06 252.50,233.62 252.60,231.26 252.70,232.60 252.80,228.01 252.90,231.81 253.00,232.47 253.10,232.55 253.20,228.23 253.30,234.67 253.40,236.18 253.50,238.64 253.60,241.44 253.70,244.01 253.80,247.45 253.90,247.56 254.00,250.58 254.10,254.89 254.20,257.08 254.30,257.18 254.40,257.76 254.50,258.19 254.60,260.93 254.70,264.71 254.80,260.71 254.90,267.53 255.00,267.02 255.10,265.10 255.20,268.93 255.30,264.81 255.40,265.20 255.50,267.22 255.60,270.96 255.70,271.72 255.80,272.52 255.90,275.08 256.00,271.41 256.10,278.40 256.20,275.40 256.30,278.29 256.40,280.05 256.50,279.62 256.60,280.35 256.70,282.38 256.80,285.83 256.90,288.41 257.00,288.65 257.10,287.44 257.20,289.21 257.30,290.24 257.40,294.61 257.50,290.39 257.60,299.03 257.70,296.50 257.80,297.15 257.90,301.01 258.00,303.91 258.10,303.67 258.20,306.62 258.30,305.85 258.40,309.70 258.50,309.00 258.60,306.56 258.70,308.60 258.80,304.31 258.90,302.71 259.00,299.00 259.10,299.01 259.20,300.03 259.30,293.81 259.40,296.90 259.50,294.79 259.60,293.21 259.70,286.01 259.80,289.48 259.90,288.74 260.00,285.34 260.10,287.36 260.20,279.11 260.30,287.96 260.40,283.20 260.50,287.38 260.60,278.27 260.70,285.62 260.80,282.09 260.90,284.78 261.00,278.69 261.10,279.05 261.20,287.56 261.30,279.22 261.40,276.85 261.50,277.10 261.60,274.02 261.70,279.38 261.80,279.96 261.90,272.04 262.00,268.14 262.10,275.53 262.20,271.99 262.30,274.58 262.40,276.68 262.50,272.59 262.60,275.64 262.70,273.69 262.80,274.83 262.90,282.31 263.00,279.22 263.10,288.12 263.20,283.61 263.30,282.98 263.40,287.92 263.50,291.73 263.60,288.64 263.70,284.81 263.80,290.56 263.90,294.37 264.00,288.76 264.10,288.36 264.20,294.73 264.30,292.38 264.40,288.85 264.50,291.73 264.60,291.03 264.70,294.20 264.80,295.83 264.90,299.77 265.00,300.35 265.10,296.76 265.20,302.81 265.30,305.50 265.40,306.07 265.50,308.95 265.60,307.83 265.70,305.89 265.80,312.29 265.90,306.77 266.00,304.04 266.10,314.41 266.20,309.68 266.30,311.57 266.40,308.86 266.50,309.70 266.60,310.83 266.70,313.86 266.80,316.69 266.90,309.25 267.00,317.30 267.10,313.84 267.20,314.80 267.30,320.66 267.40,319.00 267.50,315.23 267.60,325.96 267.70,318.48 267.80,322.39 267.90,322.86 268.00,327.07 268.10,322.13 268.20,327.07 268.30,322.50 268.40,326.03 268.50,322.83 268.60,324.44 268.70,332.50 268.80,327.20 268.90,326.68 269.00,334.27 269.10,327.95 269.20,324.08 269.30,329.63 269.40,323.23 269.50,331.38 269.60,331.84 269.70,325.94 269.80,327.70 269.90,327.61 270.00,326.25 270.10,322.78 270.20,325.76 270.30,318.20 270.40,321.34 270.50,320.47 270.60,319.86 270.70,319.79 270.80,321.05 270.90,326.84 271.00,328.94 271.10,331.48 271.20,333.67 271.30,337.13 271.40,342.51 271.50,344.61 271.60,343.42 271.70,343.38 271.80,341.43 271.90,340.50 272.00,335.15 272.10,331.79 272.20,333.79 272.30,330.57 272.40,330.17 272.50,326.22 272.60,326.50 272.70,322.91 272.80,322.78 272.90,321.09 273.00,319.64 273.10,318.06 273.20,316.83 273.30,317.30 273.40,312.77 273.50,316.50 273.60,311.24 273.70,312.41 273.80,308.85 273.90,307.29 274.00,311.04 274.10,305.22 274.20,305.50 274.30,308.64 274.40,311.51 274.50,317.79 274.60,316.80 274.70,320.20 274.80,319.24 274.90,323.66 275.00,325.69 275.10,328.33 275.20,321.66 275.30,323.55 275.40,321.83 275.50,317.83 275.60,319.04 275.70,317.46 275.80,311.83 275.90,317.30 276.00,316.14 276.10,313.65 276.20,311.12 276.30,318.93 276.40,316.48 276.50,319.01 276.60,320.64 276.70,316.38 276.80,320.38 276.90,318.36 277.00,319.57 277.10,318.01 277.20,316.75 277.30,317.48 277.40,314.15 277.50,312.20 277.60,310.54 277.70,310.30 277.80,306.53 277.90,305.85 278.00,305.29 278.10,302.89 278.20,302.32 278.30,299.97 278.40,300.78 278.50,301.52 278.60,298.63 278.70,296.54 278.80,300.28 278.90,295.31 279.00,293.43 279.10,293.24 279.20,292.23 279.30,293.53 279.40,289.52 279.50,292.93 279.60,285.69 279.70,287.96 279.80,284.97 279.90,287.71 280.00,282.34 280.10,281.59 280.20,282.19 280.30,281.55 280.40,275.80 280.50,275.98 280.60,272.74 280.70,274.17 280.80,273.33 280.90,272.22 281.00,270.89 281.10,271.09 281.20,269.71 281.30,272.27 281.40,274.12 281.50,265.32 281.60,269.16 281.70,267.92 281.80,268.65 281.90,265.11 282.00,264.59 282.10,261.40 282.20,262.35 282.30,259.62 282.40,257.42 282.50,256.47 282.60,253.98 282.70,250.05 282.80,252.95 282.90,251.24 283.00,249.28 283.10,250.27 283.20,249.57 283.30,244.14 283.40,243.59 283.50,246.76 283.60,245.38 283.70,240.27 283.80,238.33 283.90,238.20 284.00,237.32 284.10,236.34 284.20,235.01 284.30,231.06 284.40,229.03 284.50,229.80 284.60,225.48 284.70,224.18 284.80,222.99 284.90,220.38 285.00,205.86 285.10,191.98 285.20,177.65 285.30,164.54 285.40,150.13 285.50,135.49 285.60,121.86 285.70,108.09 285.80,93.99 285.90,80.68 286.00,83.48 286.10,81.33 286.20,83.38 286.30,82.49 286.40,86.48 286.50,87.55 286.60,93.41 286.70,89.95 286.80,87.21 286.90,91.04 287.00,93.71 287.10,92.45 287.20,95.57 287.30,101.28 287.40,107.41 287.50,112.58 287.60,117.58 287.70,124.49 287.80,129.00 287.90,134.75 288.00,139.30 288.10,145.22 288.20,151.84 288.30,155.40 288.40,162.11 288.50,167.97 288.60,169.32 288.70,172.49 288.80,172.78 288.90,178.59 289.00,180.56 289.10,181.57 289.20,180.90 289.30,184.22 289.40,189.48 289.50,191.21 289.60,191.49 289.70,194.42 289.80,189.91 289.90,191.42 290.00,192.33 290.10,193.87 290.20,189.04 290.30,196.08 290.40,197.52 290.50,191.26 290.60,191.10 290.70,196.13 290.80,193.80 290.90,189.52 291.00,198.61 291.10,196.89 291.20,196.41 291.30,203.40 291.40,199.40 291.50,197.99 291.60,200.81 291.70,198.79 291.80,200.22 291.90,203.78 292.00,202.23 292.10,203.23 292.20,209.20 292.30,207.97 292.40,207.06 292.50,209.22 292.60,210.76 292.70,214.22 292.80,213.04 292.90,218.24 293.00,214.50 293.10,217.45 293.20,216.91 293.30,220.52 293.40,223.10 293.50,227.50 293.60,226.51 293.70,229.96 293.80,231.76 293.90,233.53 294.00,236.39 294.10,238.37 294.20,235.44 294.30,240.75 294.40,241.68 294.50,241.26 294.60,241.58 294.70,241.86 294.80,250.47 294.90,244.21 295.00,252.03 295.10,250.96 295.20,249.85 295.30,249.14 295.40,255.40 295.50,255.16 295.60,253.19 295.70,255.86 295.80,260.17 295.90,259.76 296.00,264.81 296.10,260.11 296.20,263.90 296.30,260.98 296.40,269.95 296.50,264.62 296.60,262.39 296.70,268.46 296.80,269.65 296.90,272.42 297.00,271.10 297.10,272.79 297.20,275.25 297.30,278.75 297.40,275.10 297.50,278.91 297.60,278.31 297.70,276.91 297.80,278.74 297.90,279.42 298.00,277.64 298.10,284.31 298.20,277.96 298.30,283.37 298.40,286.06 298.50,283.97 298.60,282.91 298.70,285.23 298.80,287.99 298.90,289.57 299.00,289.11 299.10,291.91 299.20,288.36 299.30,291.41 299.40,287.12 299.50,294.54 299.60,293.62 299.70,293.72 299.80,298.35 299.90,297.03 300.00,285.11 300.10,295.38 300.20,290.49 300.30,299.57 300.40,304.81 300.50,294.69 300.60,296.85 300.70,294.46 300.80,293.92 300.90,292.72 301.00,292.25 301.10,285.70 301.20,289.22 301.30,282.20 301.40,282.90 301.50,282.92 301.60,280.19 301.70,276.28 301.80,272.67 301.90,269.88 302.00,267.36 302.10,266.02 302.20,259.16 302.30,258.67 302.40,255.73 302.50,252.50 302.60,248.80 302.70,230.37 302.80,211.42 302.90,214.89 303.00,216.56 303.10,221.02 303.20,216.47 303.30,224.50 303.40,223.89 303.50,226.07 303.60,227.03 303.70,229.80 303.80,229.18 303.90,227.56 304.00,230.04 304.10,223.87 304.20,231.06 304.30,227.11 304.40,224.91 304.50,222.88 304.60,221.90 304.70,220.20 304.80,222.16 304.90,224.10 305.00,225.31 305.10,224.31 305.20,228.30 305.30,228.59 305.40,232.37 305.50,237.49 305.60,236.51 305.70,236.60 305.80,231.83 305.90,230.46 306.00,228.15 306.10,231.06 306.20,226.37 306.30,226.20 306.40,223.08 306.50,222.56 306.60,226.92 306.70,223.89 306.80,226.05 306.90,226.48 307.00,231.48 307.10,228.87 307.20,230.07 307.30,230.96 307.40,232.35 307.50,237.74 307.60,243.59 307.70,239.00 307.80,239.12 307.90,235.76 308.00,231.28 308.10,230.57 308.20,228.51 308.30,225.58 308.40,227.96 308.50,221.36 308.60,226.19 308.70,229.29 308.80,231.21 308.90,235.37 309.00,239.53 309.10,241.71 309.20,245.23 309.30,248.78 309.40,249.80 309.50,249.79 309.60,247.66 309.70,242.72 309.80,239.56 309.90,233.12 310.00,231.64 310.10,227.52 310.20,225.06 310.30,224.55 310.40,219.38 310.50,218.07 310.60,212.90 310.70,213.28 310.80,211.29 310.90,207.67 311.00,205.28 311.10,206.97 311.20,199.77 311.30,197.64 311.40,196.44 311.50,192.47 311.60,187.77 311.70,180.66 311.80,174.21 311.90,168.95 312.00,164.78 312.10,157.50 312.20,153.62 312.30,157.53 312.40,158.28 312.50,161.80 312.60,164.64 312.70,168.50 312.80,167.41 312.90,173.34 313.00,173.77 313.10,176.56 313.20,179.08 313.30,180.42 313.40,180.96 313.50,181.78 313.60,184.84 313.70,189.24 313.80,193.80 313.90,193.63 314.00,196.61 314.10,195.77 314.20,198.59 314.30,201.27 314.40,200.99 314.50,203.21 314.60,207.14 314.70,208.48 314.80,210.47 314.90,214.23 315.00,215.76 315.10,220.29 315.20,221.23 315.30,223.30 315.40,226.50 315.50,228.56 315.60,230.32 315.70,233.66 315.80,234.58 315.90,233.28 316.00,233.71 316.10,225.70 316.20,227.67 316.30,226.56 316.40,226.86 316.50,225.13 316.60,225.22 316.70,229.33 316.80,228.93 316.90,226.77 317.00,233.76 317.10,234.00 317.20,231.28 317.30,235.68 317.40,232.97 317.50,238.47 317.60,236.67 317.70,232.97 317.80,231.13 317.90,227.96 318.00,226.98 318.10,224.42 318.20,221.66 318.30,218.16 318.40,210.57 318.50,214.06 318.60,213.44 318.70,219.47 318.80,223.45 318.90,224.58 319.00,226.03 319.10,228.90 319.20,231.51 319.30,233.36 319.40,236.43 319.50,235.99 319.60,242.09 319.70,240.64 319.80,244.15 319.90,242.68 320.00,244.71 320.10,245.45 320.20,248.19 320.30,250.32 320.40,250.26 320.50,250.57 320.60,249.33 320.70,257.06 320.80,252.00 320.90,252.58 321.00,258.33 321.10,257.84 321.20,256.82 321.30,254.68 321.40,263.41 321.50,258.23 321.60,259.30 321.70,257.78 321.80,254.70 321.90,258.63 322.00,261.52 322.10,262.44 322.20,261.74 322.30,260.24 322.40,260.48 322.50,264.37 322.60,262.34 322.70,269.52 322.80,268.86 322.90,275.53 323.00,275.38 323.10,275.98 323.20,278.47 323.30,280.51 323.40,281.12 323.50,282.87 323.60,287.09 323.70,286.22 323.80,286.48 323.90,285.54 324.00,287.40 324.10,290.42 324.20,282.18 324.30,284.59 324.40,281.73 324.50,292.38 324.60,291.61 324.70,290.08 324.80,283.70 324.90,288.76 325.00,288.34 325.10,289.45 325.20,289.36 325.30,292.17 325.40,290.16 325.50,294.57 325.60,293.46 325.70,292.59 325.80,293.84 325.90,293.58 326.00,297.98 326.10,295.49 326.20,297.20 326.30,296.11 326.40,292.92 326.50,301.21 326.60,295.15 326.70,301.27 326.80,300.82 326.90,294.42 327.00,297.16 327.10,298.98 327.20,298.39 327.30,297.62 327.40,304.30 327.50,301.51 327.60,302.95 327.70,301.59 327.80,304.39 327.90,301.20 328.00,303.95 328.10,306.32 328.20,304.86 328.30,303.53 328.40,301.77 328.50,306.27 328.60,307.20 328.70,305.53 328.80,304.18 328.90,308.85 329.00,315.58 329.10,306.73 329.20,309.17 329.30,308.64 329.40,299.45 329.50,308.29 329.60,305.22 329.70,312.02 329.80,306.23 329.90,304.20 330.00,305.82 330.10,306.85 330.20,304.15 330.30,305.59 330.40,304.64 330.50,305.16 330.60,308.72 330.70,312.88 330.80,309.26 330.90,308.26 331.00,311.52 331.10,311.37 331.20,313.78 331.30,312.33 331.40,308.93 331.50,310.49 331.60,310.62 331.70,311.39 331.80,311.45 331.90,310.71 332.00,307.05 332.10,311.59 332.20,309.30 332.30,315.45 332.40,316.32 332.50,313.24 332.60,320.03 332.70,321.48 332.80,320.63 332.90,325.47 333.00,326.98 333.10,320.53 333.20,326.99 333.30,325.77 333.40,325.42 333.50,325.56 333.60,320.57 333.70,319.80 333.80,318.17 333.90,317.27 334.00,317.74 334.10,316.02 334.20,313.26 334.30,318.43 334.40,316.11 334.50,317.41 334.60,309.76 334.70,313.21 334.80,313.77 334.90,315.51 335.00,313.30 335.10,318.08 335.20,314.66 335.30,314.72 335.40,314.52 335.50,316.59 335.60,313.82 335.70,317.75 335.80,316.73 335.90,316.64 336.00,317.06 336.10,319.02 336.20,321.01 336.30,321.54 336.40,320.02 336.50,322.78 336.60,321.52 336.70,325.16 336.80,322.56 336.90,318.00 337.00,327.49 337.10,325.04 337.20,322.46 337.30,325.67 337.40,324.62 337.50,332.96 337.60,328.59 337.70,321.77 337.80,318.89 337.90,312.98 338.00,310.29 338.10,302.39 338.20,296.24 338.30,293.54 338.40,288.30 338.50,286.36 338.60,281.49 338.70,285.59 338.80,286.92 338.90,278.20 339.00,283.33 339.10,278.45 339.20,283.23 339.30,277.35 339.40,278.01 339.50,281.95 339.60,282.05 339.70,281.05 339.80,285.00 339.90,283.81 340.00,282.50 340.10,291.55 340.20,288.01 340.30,288.78 340.40,291.49 340.50,286.66 340.60,286.69 340.70,288.43 340.80,287.86 340.90,288.90 341.00,291.13 341.10,286.43 341.20,288.44 341.30,288.21 341.40,283.29 341.50,285.73 341.60,283.09 341.70,289.19 341.80,287.65 341.90,286.61 342.00,282.92 342.10,287.39 342.20,285.07 342.30,289.58 342.40,287.43 342.50,285.67 342.60,290.92 342.70,288.89 342.80,288.25 342.90,293.01 343.00,290.91 343.10,291.90 343.20,293.83 343.30,292.99 343.40,294.66 343.50,296.27 343.60,300.86 343.70,301.81 343.80,299.11 343.90,304.06 344.00,301.59 344.10,302.90 344.20,305.42 344.30,304.28 344.40,310.24 344.50,304.96 344.60,301.61 344.70,308.54 344.80,304.48 344.90,305.17 345.00,298.61 345.10,309.36 345.20,309.29 345.30,309.65 345.40,310.51 345.50,309.28 345.60,308.86 345.70,311.79 345.80,308.31 345.90,309.82 346.00,313.76 346.10,312.74 346.20,309.18 346.30,313.79 346.40,313.06 346.50,312.12 346.60,315.66 346.70,314.24 346.80,312.05 346.90,313.71 347.00,317.80 347.10,314.88 347.20,319.37 347.30,321.16 347.40,322.23 347.50,319.53 347.60,322.35 347.70,324.28 347.80,326.60 347.90,324.75 348.00,324.74 348.10,330.04 348.20,331.25 348.30,330.81 348.40,330.80 348.50,331.42 348.60,330.13 348.70,331.17 348.80,325.85 348.90,328.33 349.00,327.10 349.10,324.35 349.20,326.73 349.30,325.71 349.40,324.11 349.50,325.31 349.60,320.65 349.70,323.09 349.80,322.81 349.90,321.66 350.00,321.58 350.10,316.31 350.20,314.37 350.30,315.89 350.40,314.84 350.50,316.20 350.60,312.26 350.70,308.35 350.80,309.73 350.90,305.56 351.00,303.07 351.10,308.45 351.20,302.86 351.30,302.46 351.40,300.79 351.50,301.43 351.60,297.48 351.70,297.60 351.80,292.48 351.90,290.47 352.00,293.66 352.10,292.33 352.20,289.33 352.30,287.44 352.40,285.92 352.50,283.07 352.60,283.54 352.60,242.72 352.70,245.31 352.80,247.36 352.90,250.51 353.00,251.99 353.10,254.55 353.20,254.10 353.30,258.67 353.40,263.26 353.50,262.14 353.60,261.34 353.70,262.77 353.80,262.13 353.90,260.63 354.00,254.95 354.10,258.81 354.20,254.31 354.30,254.32 354.40,256.58 354.50,253.92 354.60,254.22 354.70,261.44 354.80,257.36 354.90,258.20 355.00,255.68 355.10,257.16 355.20,257.20 355.30,259.29 355.40,259.02 355.50,260.90 355.60,262.84 355.70,262.04 355.80,264.42 355.90,254.23 356.00,244.96 356.10,234.51 356.20,224.80 356.30,214.58 356.40,211.21 356.50,210.56 356.60,204.97 356.70,208.63 356.80,204.66 356.90,200.16 357.00,196.38 357.10,196.61 357.20,190.72 357.30,190.23 357.40,190.47 357.50,187.04 357.60,188.93 357.70,193.75 357.80,193.42 357.90,198.08 358.00,199.56 358.10,201.68 358.20,206.35 358.30,207.70 358.40,213.69 358.50,210.58 358.60,217.30 358.70,212.99 358.80,218.02 358.90,216.18 359.00,217.60 359.10,222.27 359.20,225.01 359.30,222.82 359.40,229.44 359.50,227.18 359.60,230.75 359.70,232.96 359.80,234.28 359.90,232.57 360.00,241.01 360.10,241.06 360.20,241.24 360.30,242.14 360.40,242.89 360.50,245.55 360.60,251.23 360.70,251.57 360.80,252.08 360.90,255.28 361.00,261.36 361.10,259.72 361.20,262.01 361.30,267.16 361.40,267.79 361.50,269.28 361.60,270.32 361.70,270.81 361.80,273.79 361.90,277.34 362.00,280.10 362.10,283.45 362.20,286.09 362.30,287.73 362.40,289.99 362.50,289.93 362.60,292.64 362.70,292.40 362.80,291.02 362.90,292.33 363.00,293.92 363.10,290.58 363.20,291.27 363.30,295.18 363.40,296.18 363.50,293.56 363.60,298.00 363.70,295.57 363.80,292.84 363.90,296.94 364.00,298.28 364.10,296.09 364.20,302.11 364.30,303.64 364.40,304.92 364.50,299.46 364.60,308.24 364.70,303.95 364.80,303.87 364.90,304.88 365.00,308.13 365.10,307.55 365.20,307.87 365.30,312.86 365.40,308.25 365.50,310.49 365.60,314.29 365.70,314.40 365.80,316.13 365.90,309.19 366.00,316.90 366.10,315.28 366.20,320.03 366.30,310.22 366.40,315.61 366.50,314.33 366.60,310.28 366.70,313.66 366.80,320.32 366.90,316.58 367.00,316.60 367.10,321.83 367.20,323.54 367.30,324.96 367.40,322.13 367.50,325.31 367.60,329.34 367.70,327.85 367.80,326.29 367.90,332.00 368.00,334.91 368.10,326.38 368.20,322.05 368.30,326.33 368.40,328.26 368.50,331.64 368.60,334.62 368.70,332.56 368.80,331.20 368.90,334.11 369.00,329.95 369.10,329.63 369.20,326.31 369.30,330.79 369.40,324.94 369.50,319.51 369.60,317.05 369.70,316.60 369.80,314.01 369.90,317.59 370.00,318.83 370.10,324.20 370.20,322.15 370.30,322.50 370.40,322.37 370.50,324.05 370.60,328.25 370.70,326.68 370.80,329.32 370.90,323.47 371.00,327.05 371.10,323.82 371.20,322.07 371.30,315.56 371.40,316.48 371.50,321.00 371.60,321.76 371.70,317.04 371.80,320.25 371.90,319.11 372.00,320.77 372.10,321.67 372.20,327.05 372.30,327.16 372.40,327.40 372.50,328.76 372.60,331.49 372.70,330.48 372.80,326.24 372.90,331.05 373.00,326.08 373.10,324.06 373.20,326.24 373.30,323.72 373.40,319.74 373.50,322.26 373.60,318.65 373.70,320.80 373.80,317.14 373.90,327.98 374.00,320.05 374.10,328.33 374.20,324.97 374.30,325.49 374.40,328.66 374.50,330.92 374.60,331.53 374.70,337.29 374.80,333.63 374.90,335.96 375.00,332.10 375.10,336.87 375.20,335.85 375.30,334.65 375.40,336.73 375.50,336.36 375.60,337.13 375.70,337.73 375.80,334.06 375.90,332.97 376.00,338.46 376.10,328.91 376.20,332.83 376.30,340.94 376.40,324.44 376.50,331.95 376.60,337.03 376.70,327.88 376.80,335.84 376.90,325.67 377.00,339.85 377.10,340.74 377.20,339.03 377.30,335.63 377.40,338.08 377.50,334.28 377.60,340.58 377.70,337.50 377.80,331.79 377.90,326.87 378.00,318.48 378.10,313.03 378.20,307.34 378.30,299.57 378.40,295.92 378.50,288.74 378.60,283.06 378.70,282.99 378.80,278.97 378.90,276.47 379.00,275.08 379.10,270.95 379.20,271.25 379.30,266.30 379.40,271.36 379.50,272.40 379.60,276.82 379.70,277.20 379.80,280.10 379.90,281.80 380.00,287.68 380.10,290.17 380.20,294.65 380.30,291.31 380.40,287.37 380.50,285.09 380.60,285.86 380.70,283.72 380.80,287.04 380.90,284.60 381.00,278.56 381.10,278.04 381.20,282.95 381.30,278.32 381.40,274.86 381.50,274.48 381.60,268.92 381.70,266.27 381.80,263.12 381.90,257.69 382.00,259.73 382.10,254.55 382.20,252.49 382.30,250.50 382.40,252.31 382.50,248.89 382.60,247.49 382.70,242.00 382.80,244.08 382.90,239.29 383.00,241.31 383.10,240.08 383.20,237.44 383.30,240.08 383.40,235.00 383.50,233.34 383.60,230.55 383.70,228.02 383.80,228.70 383.90,227.18 384.00,220.22 384.10,221.92 384.20,223.38 384.30,225.34 384.40,224.26 384.50,219.27 384.60,220.02 384.70,230.17 384.80,225.64 384.90,220.80 385.00,226.98 385.10,225.22 385.20,225.65 385.30,218.42 385.40,220.67 385.50,227.18 385.60,225.79 385.70,224.84 385.80,226.52 385.90,227.42 386.00,217.53 386.10,223.73 386.20,221.62 386.30,219.94 386.40,223.73 386.50,226.73 386.60,229.33 386.70,230.22 386.80,234.64 386.90,241.56 387.00,240.40 387.10,240.65 387.20,246.58 387.30,249.64 387.40,251.91 387.50,251.65 387.60,257.84 387.70,257.23 387.80,260.35 387.90,261.77 388.00,264.66 388.10,268.20 388.20,269.90 388.30,270.50 388.40,274.29 388.50,274.48 388.60,277.99 388.70,277.19 388.80,278.96 388.90,285.65 389.00,285.64 389.10,290.45 389.20,294.04 389.30,293.78 389.40,294.83 389.50,300.57 389.60,291.36 389.70,301.15 389.80,305.75 389.90,300.83 390.00,301.68 390.10,304.55 390.20,308.34 390.30,301.53 390.40,305.77 390.50,306.02 390.60,308.88 390.70,308.50 390.80,310.98 390.90,308.90 391.00,310.97 391.10,309.87 391.20,310.70 391.30,312.91 391.40,313.72 391.50,311.80 391.60,319.90 391.70,316.18 391.80,313.69 391.90,321.09 392.00,317.01 392.10,320.12 392.20,320.56 392.30,322.08 392.40,322.67 392.50,321.51 392.60,323.94 392.70,329.98 392.80,319.58 392.90,326.43 393.00,328.20 393.10,325.12 393.20,325.10 393.30,335.12 393.40,329.33 393.50,332.38 393.60,333.13 393.70,332.14 393.80,333.76 393.90,334.65 394.00,336.69 394.10,334.86 394.20,334.38 394.30,334.89 394.40,338.82 394.50,337.62 394.60,332.58 394.70,334.09 394.80,337.38 394.90,336.42 395.00,336.09 395.10,334.79 395.20,337.25 395.30,339.66 395.40,341.71 395.50,339.27 395.60,345.56 395.70,339.84 395.80,349.43 395.90,343.66 396.00,342.65 396.10,340.32 396.20,334.40 396.30,342.42 396.40,343.84 396.50,348.57 396.60,342.40 396.70,350.38 396.80,346.75 396.90,349.75 397.00,343.91 397.10,350.43 397.20,350.93 397.30,353.35 397.40,352.84 397.50,350.99 397.60,356.18 397.70,356.41 397.80,356.97 397.90,358.58 398.00,359.52 398.10,358.01 398.20,356.12 398.30,358.96 398.40,363.01 398.50,362.37 398.60,361.82 398.70,361.42 398.80,363.01 398.90,363.67 399.00,363.65 399.10,363.64 399.20,369.70 399.30,366.73 399.40,365.86 399.50,365.28 399.60,367.01 399.70,370.27 399.80,371.00 399.90,369.95 400.00,371.02 400.10,368.53 400.20,365.53 400.30,366.00 400.40,362.86 400.50,362.94 400.60,357.41 400.70,355.93 400.80,354.83 400.90,351.55 401.00,348.29 401.10,346.60 401.20,345.43 401.30,343.21 401.40,340.34 401.50,338.80 401.60,336.29 401.70,333.23 401.80,330.50 401.90,327.78 402.00,325.67 402.10,328.00 402.20,328.72 402.30,330.69 402.40,331.49 402.50,331.97 402.60,333.96 402.70,337.32 402.80,338.57 402.90,340.18 403.00,341.65 403.10,344.30 403.20,346.63 403.30,348.22 403.40,348.63 403.50,351.04 403.60,346.90 403.70,341.98 403.80,338.55 403.90,334.59 404.00,329.45 404.10,326.60 404.20,321.01 404.30,316.84 404.40,313.58 404.50,310.09 404.60,307.73 404.70,304.29 404.80,302.31 404.90,298.40 405.00,295.19 405.10,291.50 405.20,288.06 405.30,283.53 405.40,278.21 405.50,274.25 405.60,268.80 405.70,264.42 405.80,265.94 405.90,267.24 406.00,267.72 406.10,268.88 406.20,270.58 406.30,272.08 406.40,271.35 406.50,273.94 406.60,277.62 406.70,275.63 406.80,276.62 406.90,277.88 407.00,277.35 407.10,281.64 407.20,281.28 407.30,282.62 407.40,285.56 407.50,287.42 407.60,284.25 407.70,287.70 407.80,288.20 407.90,288.96 408.00,289.65 408.10,290.25 408.20,293.22 408.30,292.68 408.40,293.10 408.50,295.11 408.60,295.42 408.70,295.60 408.80,296.20 408.90,298.94 409.00,298.02 409.10,298.07 409.20,297.69 409.30,299.16 409.40,298.96 409.50,301.32 409.60,302.29 409.70,302.04 409.80,304.15 409.90,306.28 410.00,307.16 410.10,307.33 410.20,311.25 410.30,310.47 410.40,311.30 410.50,312.89 410.60,315.51 410.70,318.06 410.80,319.69 410.90,319.87 411.00,316.55 411.10,314.91 411.20,312.55 411.30,311.08 411.40,307.45 411.50,307.08 411.60,305.44 411.70,302.65 411.80,300.92 411.90,297.41 412.00,294.72 412.10,293.27 412.20,292.72 412.30,290.39 412.40,286.80 412.50,286.13 412.60,282.69 412.70,281.17 412.80,277.49 412.90,273.88 413.00,272.04 413.10,267.92 413.20,264.94 413.30,261.67 413.40,260.09 413.50,256.29 413.60,252.59 413.70,248.68 413.80,246.29 413.90,241.32 414.00,237.43 414.10,235.13 414.20,231.57 414.30,227.01 414.40,222.25 414.50,219.73 414.60,217.26 414.70,213.46 414.80,211.24 414.90,205.70 415.00,203.86 415.10,199.52 415.20,197.61 415.30,193.21 415.40,190.25 415.50,194.93 415.60,199.89 415.70,205.43 415.80,211.08 415.90,216.23 416.00,222.82 416.10,228.27 416.20,233.07 416.30,237.95 416.40,239.21 416.50,239.52 416.60,243.41 416.70,242.97 416.80,244.26 416.90,244.15 417.00,243.08 417.10,246.54 417.20,247.23 417.30,250.54 417.40,251.91 417.50,252.58 417.60,254.70 417.70,258.54 417.80,257.40 417.90,259.11 418.00,261.55 418.10,262.69 418.20,264.66 418.30,266.98 418.40,264.95 418.50,258.98 418.60,257.15 418.70,253.98 418.80,250.67 418.90,247.38 419.00,244.04 419.10,241.45 419.20,238.43 419.30,236.55 419.40,234.47 419.50,232.36 419.60,229.88 419.70,228.82 419.80,225.61 419.90,223.58 420.00,221.18 420.10,218.47 420.20,217.12 420.30,215.31 420.40,215.21 420.50,212.59 420.60,210.63 420.70,210.60 420.80,209.38 420.90,205.14 421.00,207.64 421.10,204.11 421.20,206.54 421.30,210.15 421.40,211.76 421.50,213.67 421.60,218.80 421.70,218.30 421.80,221.74 421.90,225.15 422.00,226.52 422.10,228.20 422.20,230.23 422.30,234.13 422.40,231.50 422.50,233.97 422.60,236.26 422.70,236.98 422.80,237.87 422.90,238.47 423.00,237.44 423.10,237.50 423.20,238.14 423.30,237.42 423.40,235.88 423.50,235.20 423.60,232.30 423.70,233.41 423.80,233.49 423.90,232.46 424.00,233.99 424.10,234.05 424.20,238.41 424.30,240.49 424.40,238.42 424.50,240.73 424.60,241.16 424.70,244.39 424.80,244.16 424.90,244.93 425.00,245.29 425.10,246.64 425.20,245.73 425.30,249.11 425.40,247.79 425.50,250.52 425.60,250.71 425.70,253.01 425.80,252.12 425.90,254.53 426.00,252.35 426.10,255.52 426.20,255.32 426.30,256.33 426.40,256.73 426.50,258.78 426.60,254.46 426.70,258.98 426.80,256.54 426.90,261.67 427.00,256.95 427.10,259.18 427.20,258.66 427.30,264.83 427.40,260.52 427.50,263.48 427.60,263.70 427.70,263.27 427.80,266.64 427.90,269.45 428.00,269.98 428.10,272.95 428.20,272.92 428.30,274.95 428.40,276.05 428.50,278.23 428.60,281.90 428.70,280.70 428.80,281.49 428.90,281.34 429.00,282.18 429.10,286.45 429.20,283.73 429.30,285.06 429.40,287.28 429.50,287.84 429.60,290.23 429.70,286.23 429.80,291.44 429.90,292.70 430.00,290.31 430.10,291.78 430.20,294.25 430.30,296.92 430.40,293.32 430.50,292.89 430.60,297.84 430.70,299.43 430.80,296.98 430.90,294.50 431.00,301.33 431.10,299.22 431.20,302.12 431.30,300.88 431.40,300.74 431.50,301.12 431.60,305.09 431.70,305.53 431.80,299.64 431.90,302.31 432.00,307.70 432.10,304.36 432.20,303.09 432.30,306.06 432.40,306.37 432.50,306.90 432.60,306.73 432.70,307.55 432.80,307.80 432.90,309.74 433.00,308.18 433.10,309.65 433.20,310.42 433.30,311.70 433.40,312.58 433.50,312.54 433.60,314.37 433.70,314.91 433.80,316.80 433.90,316.60 434.00,319.50 434.10,319.51 434.20,317.97 434.30,318.11 434.40,321.03 434.50,321.18 434.60,320.92 434.70,319.38 434.80,321.89 434.90,323.67 435.00,324.89 435.10,325.36 435.20,321.76 435.30,326.63 435.40,324.02 435.50,326.20 435.60,326.66 435.70,324.72 435.80,325.53 435.90,323.08 436.00,325.72 436.10,324.41 436.20,328.47 436.30,329.22 436.40,331.44 436.50,331.33 436.60,330.50 436.70,332.95 436.80,332.54 436.90,335.01 437.00,335.34 437.10,333.98 437.20,336.45 437.30,337.35 437.40,337.56 437.50,340.38 437.60,340.38 437.70,340.38 437.80,341.63 437.90,340.08 438.00,344.40 438.10,345.17 438.20,343.87 438.30,348.67 438.40,350.34 438.50,349.62 438.60,351.37 438.70,351.72 438.80,355.48 438.90,353.35 439.00,356.68 439.10,358.98 439.20,354.98 439.30,354.69 439.40,352.75 439.50,350.14 439.60,351.03 439.70,350.78 439.80,347.52 439.90,348.77 440.00,349.28 440.10,348.04 440.20,342.80 440.30,342.83 440.40,340.84 440.50,342.93 440.60,342.20 440.70,341.12 440.80,337.55 440.90,335.90 441.00,336.54 441.10,335.37 441.20,332.72 441.30,333.00 441.40,332.54 441.50,330.70 441.60,327.58 441.70,324.76 441.80,326.33 441.90,325.57 442.00,322.39 442.10,319.37 442.20,316.26 442.30,314.81 442.40,311.20 442.50,308.52 442.60,304.58 442.70,302.45 442.80,298.07 442.90,292.48 443.00,287.54 443.10,283.46 443.20,279.82 443.30,274.28 443.40,272.17 443.50,267.37 443.60,263.85 443.70,259.51 443.80,256.90 443.90,255.38 444.00,251.01 444.10,248.03 444.20,244.29 444.30,239.01 444.40,233.88 444.50,229.12 444.60,224.52 444.70,219.38 444.80,214.42 444.90,209.20 445.00,203.78 445.10,208.00 445.20,211.56 445.30,217.24 445.40,218.85 445.50,224.48 445.60,230.68 445.70,232.60 445.80,236.08 445.90,241.09 446.00,242.74 446.10,239.41 446.20,240.11 446.30,238.48 446.40,236.93 446.50,242.59 446.60,236.33 446.70,235.28 446.80,235.63 446.90,238.02 447.00,239.01 447.10,240.55 447.20,240.45 447.30,238.81 447.40,242.99 447.50,242.55 447.60,243.88 447.70,245.82 447.80,249.87 447.90,252.93 448.00,256.77 448.10,258.65 448.20,263.25 448.30,266.52 448.40,269.15 448.50,267.30 448.60,265.55 448.70,266.60 448.80,260.36 448.90,261.99 449.00,258.73 449.10,259.02 449.20,259.38 449.30,255.89 449.40,255.54 449.50,252.75 449.60,253.28 449.70,253.30 449.80,252.89 449.90,247.90 450.00,247.52 450.10,250.49 450.20,247.53 450.30,246.65 450.40,246.89 450.50,243.40 450.60,246.09 450.70,244.01 450.80,243.08 450.90,240.00 451.00,240.02 451.10,236.85 451.20,237.49 451.30,236.17 451.40,234.33 451.50,232.25 451.60,230.85 451.70,224.88 451.80,227.23 451.90,224.06 452.00,221.88 452.10,218.93 452.20,215.23 452.30,213.55 452.40,212.21 452.50,210.43 452.60,205.78 452.70,202.94 452.80,201.87 452.90,202.54 453.00,208.01 453.10,207.99 453.20,209.17 453.30,213.44 453.40,216.43 453.50,215.20 453.60,220.70 453.70,221.09 453.80,225.04 453.90,225.20 454.00,226.10 454.10,230.59 454.20,233.27 454.30,236.76 454.40,238.56 454.50,239.65 454.60,241.01 454.70,241.98 454.80,243.83 454.90,244.69 455.00,246.96 455.10,245.59 455.20,250.66 455.30,251.94 455.40,256.83 455.50,256.07 455.60,256.03 455.70,258.42 455.80,259.44 455.90,262.56 456.00,263.77 456.10,269.60 456.20,271.24 456.30,271.94 456.40,275.55 456.50,278.46 456.60,279.81 456.70,280.60 456.80,279.65 456.90,280.95 457.00,283.02 457.10,285.24 457.20,283.52 457.30,284.04 457.40,287.13 457.50,283.79 457.60,284.35 457.70,281.56 457.80,280.50 457.90,279.71 458.00,276.66 458.10,274.95 458.20,271.15 458.30,269.60 458.40,269.36 458.50,267.38 458.60,269.03 458.70,270.38 458.80,266.24 458.90,265.66 459.00,266.78 459.10,264.56 459.20,264.02 459.30,261.81 459.40,265.23 459.50,261.01 459.60,263.57 459.70,259.60 459.80,263.90 459.90,259.57 460.00,261.41 460.10,257.78 460.20,259.48 460.30,262.03 460.40,258.00 460.50,259.19 460.60,257.78 460.70,254.04 460.80,258.40 460.90,258.22 461.00,255.01 461.10,257.66 461.20,254.77 461.30,253.99 461.40,255.40 461.50,253.65 461.60,257.99 461.70,250.97 461.80,254.17 461.90,253.97 462.00,248.43 462.10,248.22 462.20,251.42 462.30,249.07 462.40,249.89 462.50,250.53 462.60,247.41 462.70,245.66 462.80,245.81 462.90,248.63 463.00,248.86 463.10,251.94 463.20,253.43 463.30,253.09 463.40,258.40 463.50,259.22 463.60,260.52 463.70,260.67 463.80,262.15 463.90,263.53 464.00,265.24 464.10,265.93 464.20,269.35 464.30,270.65 464.40,272.36 464.50,272.86 464.60,276.56 464.70,276.78 464.80,277.12 464.90,278.93 465.00,281.21 465.10,284.01 465.20,284.10 465.30,285.75 465.40,286.85 465.50,290.01 465.60,290.29 465.70,292.19 465.80,292.74 465.90,295.69 466.00,295.58 466.10,295.41 466.20,299.63 466.30,299.23 466.40,301.87 466.50,302.83 466.60,298.62 466.70,293.70 466.80,287.89 466.90,283.33 467.00,277.82 467.10,274.82 467.20,269.24 467.30,265.01 467.40,259.14 467.50,253.27 467.60,250.23 467.70,248.27 467.80,246.77 467.90,245.14 468.00,244.29 468.10,242.61 468.20,238.60 468.30,240.17 468.40,236.75 468.50,235.28 468.60,236.29 468.70,233.81 468.80,231.08 468.90,231.20 469.00,235.24 469.10,237.57 469.20,238.86 469.30,239.59 469.40,242.00 469.50,243.45 469.60,246.91 469.70,249.48 469.80,251.62 469.90,252.25 470.00,261.90 470.10,271.33 470.20,280.27 470.30,289.71 470.40,299.84 470.50,308.47 470.60,306.90 470.70,303.34 470.80,301.46 470.90,297.49 471.00,296.74 471.10,295.55 471.20,294.06 471.30,290.89 471.40,288.09 471.50,285.18 471.60,282.60 471.70,280.89 471.80,279.99 471.90,276.76 472.00,276.87 472.10,273.08 472.20,271.80 472.30,271.73 472.40,271.58 472.50,272.78 472.60,277.15 472.70,276.02 472.80,277.40 472.90,279.52 473.00,280.45 473.10,278.72 473.20,282.11 473.30,281.13 473.40,279.82 473.50,279.18 473.60,275.68 473.70,275.29 473.80,274.95 473.90,274.65 474.00,272.26 474.10,271.38 474.20,271.54 474.30,270.90 474.40,268.93 474.50,267.22 474.60,265.02 474.70,263.84 474.80,263.28 474.90,261.24 475.00,259.70 475.10,260.95 475.20,257.46 475.30,255.26 475.40,255.67 475.50,255.96 475.60,252.53 475.70,255.62 475.80,255.87 475.90,257.71 476.00,259.42 476.10,261.86 476.20,265.71 476.30,264.66 476.40,269.31 476.50,269.27 476.60,271.95 476.70,275.40 476.80,277.78 476.90,280.04 477.00,280.96 477.10,285.20 477.20,286.59 477.30,290.82 477.40,291.55 477.50,293.72 477.60,294.14 477.70,296.58 477.80,297.53 477.90,301.59 478.00,302.10 478.10,304.70 478.20,305.21 478.30,307.16 478.40,310.73 478.50,310.89 478.60,309.02 478.70,312.84 478.80,311.05 478.90,312.62 479.00,315.15 479.10,313.09 479.20,316.14 479.30,314.33 479.40,318.08 479.50,318.35 479.60,316.75 479.70,319.21 479.80,321.18 479.90,324.53 480.00,327.80 480.10,328.14 480.20,332.58 480.30,333.22 480.40,336.53 480.50,330.53 480.60,327.12 480.70,320.73 480.80,315.46 480.90,309.63 481.00,305.13 481.10,298.18 481.20,293.88 481.30,289.18 481.40,216.61 481.50,144.75 481.60,72.91 481.70,0.75 481.80,15.01 481.90,29.30 482.00,12.06 482.10,20.14 482.20,27.89 482.30,21.13 482.40,14.02 482.50,20.05 482.60,25.03 482.70,29.93 482.80,45.05 482.90,61.26 483.00,76.82 483.10,92.03 483.20,107.37 483.30,123.10 483.40,139.08 483.50,154.23 483.60,169.86 483.70,172.76 483.80,176.14 483.90,177.76 484.00,180.29 484.10,182.52 484.20,186.84 484.30,188.99 484.40,190.65 484.50,192.19 484.60,195.27 484.70,198.68 484.80,198.83 484.90,201.93 485.00,202.48 485.10,203.59 485.20,205.21 485.30,206.21 485.40,205.73 485.50,207.56 485.60,212.07 485.70,208.82 485.80,210.92 485.90,213.06 486.00,213.79 486.10,214.27 486.20,214.92 486.30,218.54 486.40,220.44 486.50,222.23 486.60,221.81 486.70,224.37 486.80,222.98 486.90,225.83 487.00,226.65 487.10,228.16 487.20,230.01 487.30,231.50 487.40,229.51 487.50,233.83 487.60,232.28 487.70,232.48 487.80,234.76 487.90,233.83 488.00,237.05 488.10,238.50 488.20,238.77 488.30,240.91 488.40,240.98 488.50,242.13 488.60,240.90 488.70,244.23 488.80,243.85 488.90,245.50 489.00,247.08 489.10,248.55 489.20,246.63 489.30,247.78 489.40,250.83 489.50,253.11 489.60,253.95 489.70,255.84 489.80,255.94 489.90,257.19 490.00,257.26 490.10,256.47 490.20,257.56 490.30,259.32 490.40,261.55 490.50,262.41 490.60,262.98 490.70,263.65 490.80,265.98 490.90,266.18 491.00,267.29 491.10,268.26 491.20,267.67 491.30,269.14 491.40,271.49 491.50,272.37 491.60,272.25 491.70,272.91 491.80,278.80 491.90,274.30 492.00,276.30 492.10,278.20 492.20,276.60 492.30,279.96 492.40,284.10 492.50,283.52 492.60,283.97 492.70,284.08 492.80,285.92 492.90,289.10 493.00,289.44 493.10,291.01 493.20,293.74 493.30,296.88 493.40,297.99 493.50,300.46 493.60,298.40 493.70,305.16 493.80,308.85 493.90,309.30 494.00,308.76 494.10,310.77 494.20,308.37 494.30,303.73 494.40,302.59 494.50,297.95 494.60,296.57 494.70,293.90 494.80,286.67 494.90,286.31 495.00,282.43 495.10,278.64 495.20,280.56 495.30,281.40 495.40,284.64 495.50,277.21 495.60,284.18 495.70,286.67 495.80,282.39 495.90,281.98 496.00,280.13 496.10,279.26 496.20,282.44 496.30,283.72 496.40,285.92 496.50,290.89 496.60,289.03 496.70,290.02 496.80,293.71 496.90,289.80 497.00,291.73 497.10,294.74 497.20,296.63 497.30,298.40 497.40,295.19 497.50,300.28 497.60,299.21 497.70,296.70 497.80,293.11 497.90,295.34 498.00,295.38 498.10,289.86 498.20,293.19 498.30,293.67 498.40,291.42 498.50,295.83 498.60,295.75 498.70,291.65 498.80,294.69 498.90,293.17 499.00,297.32 499.10,294.65 499.20,299.68 499.30,299.18 499.40,301.33 499.50,299.72 499.60,295.28 499.70,304.52 499.80,298.59 499.90,302.90 500.00,299.89 500.10,300.37 500.20,303.52 500.30,298.93 500.40,301.79 500.50,293.14 500.60,299.77 500.70,296.87 500.80,298.03 500.90,299.60 501.00,301.56 501.10,305.43 501.20,299.81 501.30,304.83 501.40,304.63 501.50,309.61 501.60,307.79 501.70,310.80 501.80,310.98 501.90,313.42 502.00,314.83 502.10,311.74 502.20,313.40 502.30,310.18 502.40,315.09 502.50,317.00 502.60,313.94 502.70,318.70 502.80,311.13 502.90,315.91 503.00,314.36 503.10,317.20 503.20,319.09 503.30,319.58 503.40,320.33 503.50,322.89 503.60,320.82 503.70,319.69 503.80,320.46 503.90,328.98 504.00,319.32 504.10,325.41 504.20,329.83 504.30,327.36 504.40,323.95 504.50,326.52 504.60,329.18 504.70,330.39 504.80,324.78 504.90,329.65 505.00,328.49 505.10,331.10 505.20,329.03 505.30,325.70 505.40,321.94 505.50,322.69 505.60,322.72 505.70,318.98 505.80,316.21 505.90,317.44 506.00,310.14 506.10,311.02 506.20,306.71 506.30,305.53 506.40,306.20 506.50,310.22 506.60,304.60 506.70,306.07 506.80,303.92 506.90,309.56 507.00,307.69 507.10,310.34 507.20,307.12 507.30,309.36 507.40,313.29 507.50,311.11 507.60,311.80 507.70,310.81 507.80,308.11 507.90,304.69 508.00,309.49 508.10,306.94 508.20,307.94 508.30,300.62 508.40,300.64 508.50,298.80 508.60,302.26 508.70,305.86 508.80,306.14 508.90,306.19 509.00,307.68 509.10,310.05 509.20,309.23 509.30,311.73 509.40,312.43 509.50,309.24 509.60,313.81 509.70,318.27 509.80,316.70 509.90,314.62 510.00,311.87 510.10,309.97 510.20,310.25 510.30,306.15 510.40,302.98 510.50,297.87 510.60,299.49 510.70,295.39 510.80,293.53 510.90,294.49 511.00,297.20 511.10,295.47 511.20,301.55 511.30,303.05 511.40,303.33 511.50,307.59 511.60,306.27 511.70,308.95 511.80,310.69 511.90,313.23 512.00,317.33 512.10,314.75 512.20,315.87 512.30,317.01 512.40,320.18 512.50,319.76 512.60,323.04 512.70,320.40 512.80,319.89 512.90,322.28 513.00,324.14 513.10,322.80 513.20,325.63 513.30,330.09 513.40,325.51 513.50,327.52 513.60,331.00 513.70,327.30 513.80,327.51 513.90,327.63 514.00,331.50 514.10,332.39 514.20,331.60 514.30,332.61 514.40,331.38 514.50,328.15 514.60,322.69 514.70,321.63 514.80,319.03 514.90,317.04 515.00,313.17 515.10,309.93 515.20,307.42 515.30,303.12 515.40,302.47 515.50,299.50 515.60,296.69 515.70,291.63 515.80,288.68 515.90,284.58 516.00,280.94 516.10,279.17 516.20,274.45 516.30,271.59 516.40,261.68 516.50,253.16 516.60,243.18 516.70,245.65 516.80,247.95 516.90,251.69 517.00,253.49 517.10,255.35 517.20,259.01 517.30,260.49 517.40,263.27 517.50,265.90 517.60,267.13 517.70,269.44 517.80,272.26 517.90,273.55 518.00,276.91 518.10,280.16 518.20,282.10 518.30,282.73 518.40,283.79 518.50,287.73 518.60,289.92 518.70,293.87 518.80,294.14 518.90,296.88 519.00,299.86 519.10,299.82 519.20,302.11 519.30,306.79 519.40,308.26 519.50,308.75 519.60,310.00 519.70,309.91 519.80,314.07 519.90,315.11 520.00,316.99 520.10,317.18 520.20,319.38 520.30,320.36 520.40,322.55 520.50,325.84 520.60,325.21 520.70,322.86 520.80,325.39 520.90,325.57 521.00,328.29 521.10,331.36 521.20,332.56 521.30,330.98 521.40,333.59 521.50,331.96 521.60,331.13 521.70,331.83 521.80,333.72 521.90,339.53 522.00,333.96 522.10,340.47 522.20,341.33 522.30,338.58 522.40,339.54 522.50,338.93 522.60,341.06 522.70,340.99 522.80,338.52 522.90,339.12 523.00,338.23 523.10,335.40 523.20,334.12 523.30,332.14 523.40,331.25 523.50,325.89 523.60,323.41 523.70,319.18 523.80,314.07 523.90,313.12 524.00,305.90 524.10,301.98 524.20,299.13 524.30,292.83 524.40,289.98 524.50,285.20 524.60,282.27 524.60,212.60 524.70,214.49 524.80,217.27 524.90,218.00 525.00,220.01 525.10,220.17 525.20,219.45 525.30,223.76 525.40,221.99 525.50,223.04 525.60,228.43 525.70,227.29 525.80,230.78 525.90,235.07 526.00,238.91 526.10,240.13 526.20,245.23 526.30,247.73 526.40,252.84 526.50,252.28 526.60,257.58 526.70,256.82 526.80,255.02 526.90,257.72 527.00,256.20 527.10,259.87 527.20,261.96 527.30,262.37 527.40,258.71 527.50,263.12 527.60,265.94 527.70,266.52 527.80,267.60 527.90,267.38 528.00,272.43 528.10,273.05 528.20,276.67 528.30,279.35 528.40,281.54 528.50,276.70 528.60,273.78 528.70,268.47 528.80,264.41 528.90,262.85 529.00,258.44 529.10,247.77 529.20,238.40 529.30,229.08 529.40,220.13 529.50,210.05 529.60,200.11 529.70,188.88 529.80,185.45 529.90,181.77 530.00,177.39 530.10,173.13 530.20,168.16 530.30,165.97 530.40,161.39 530.50,155.44 530.60,150.21 530.70,149.14 530.80,142.09 530.90,139.66 531.00,136.13 531.10,128.81 531.20,125.83 531.30,121.07 531.40,131.52 531.50,141.37 531.60,152.24 531.70,161.44 531.80,171.06 531.90,176.14 532.00,178.31 532.10,182.01 532.20,188.85 532.30,189.07 532.40,193.59 532.50,194.12 532.60,191.08 532.70,188.17 532.80,197.96 532.90,192.68 533.00,193.67 533.10,194.44 533.20,192.86 533.30,192.84 533.40,196.85 533.50,198.15 533.60,196.96 533.70,195.72 533.80,189.70 533.90,191.56 534.00,187.84 534.10,190.71 534.20,187.33 534.30,186.62 534.40,185.31 534.50,183.04 534.60,179.93 534.70,184.60 534.80,178.85 534.90,178.65 535.00,180.21 535.10,178.44 535.20,179.82 535.30,183.59 535.40,184.74 535.50,187.02 535.60,189.11 535.70,192.82 535.80,190.83 535.90,196.76 536.00,197.03 536.10,198.91 536.20,203.28 536.30,205.01 536.40,208.41 536.50,212.02 536.60,208.29 536.70,214.29 536.80,219.91 536.90,220.18 537.00,223.31 537.10,223.14 537.20,224.30 537.30,222.90 537.40,228.41 537.50,229.81 537.60,226.19 537.70,228.15 537.80,230.29 537.90,225.81 538.00,230.21 538.10,236.11 538.20,238.35 538.30,233.12 538.40,238.96 538.50,233.55 538.60,233.56 538.70,235.20 538.80,236.13 538.90,231.68 539.00,234.45 539.10,228.80 539.20,226.47 539.30,220.83 539.40,224.67 539.50,219.26 539.60,217.55 539.70,211.80 539.80,214.33 539.90,217.15 540.00,214.79 540.10,217.61 540.20,219.54 540.30,222.08 540.40,221.37 540.50,226.30 540.60,223.07 540.70,224.59 540.80,225.56 540.90,222.95 541.00,228.11 541.10,233.45 541.20,233.55 541.30,232.96 541.40,236.98 541.50,236.70 541.60,240.42 541.70,244.58 541.80,247.77 541.90,248.48 542.00,253.97 542.10,256.74 542.20,256.23 542.30,260.28 542.40,257.15 542.50,257.94 542.60,264.90 542.70,265.35 542.80,267.30 542.90,267.30 543.00,269.53 543.10,273.47 543.20,276.99 543.30,274.58 543.40,273.21 543.50,279.18 543.60,281.85 543.70,284.50 543.80,286.19 543.90,292.32 544.00,291.05 544.10,294.32 544.20,292.84 544.30,297.51 544.40,300.62 544.50,306.15 544.60,311.70 544.70,315.66 544.80,323.47 544.90,326.08 545.00,322.33 545.10,319.45 545.20,313.67 545.30,312.29 545.40,308.58 545.50,303.78 545.60,305.34 545.70,299.78 545.80,298.02 545.90,293.55 546.00,290.07 546.10,289.89 546.20,288.34 546.30,286.57 546.40,288.39 546.50,278.40 546.60,281.48 546.70,278.78 546.80,287.57 546.90,281.26 547.00,280.78 547.10,278.39 547.20,281.76 547.30,279.11 547.40,280.14 547.50,272.95 547.60,281.30 547.70,278.32 547.80,277.99 547.90,279.18 548.00,274.32 548.10,273.62 548.20,275.39 548.30,272.95 548.40,271.18 548.50,271.42 548.60,269.12 548.70,272.18 548.80,272.22 548.90,268.77 549.00,273.83 549.10,262.81 549.20,266.81 549.30,268.76 549.40,262.45 549.50,258.16 549.60,262.77 549.70,259.19 549.80,253.70 549.90,256.13 550.00,252.07 550.10,243.32 550.20,235.85 550.30,227.19 550.40,218.32 550.50,210.48 550.60,201.69 550.70,204.33 550.80,206.06 550.90,209.53 551.00,208.98 551.10,209.09 551.20,211.02 551.30,215.10 551.40,220.62 551.50,220.03 551.60,218.81 551.70,223.94 551.80,219.64 551.90,226.26 552.00,223.78 552.10,227.78 552.20,228.49 552.30,227.89 552.40,224.68 552.50,219.01 552.60,216.54 552.70,214.28 552.80,214.50 552.90,206.17 553.00,201.55 553.10,196.30 553.20,195.24 553.30,187.85 553.40,185.18 553.50,182.70 553.60,182.33 553.70,189.52 553.80,190.84 553.90,189.92 554.00,192.09 554.10,192.83 554.20,194.82 554.30,199.85 554.40,202.84 554.50,204.57 554.60,206.62 554.70,207.37 554.80,211.21 554.90,210.18 555.00,215.01 555.10,219.81 555.20,220.30 555.30,222.98 555.40,227.24 555.50,233.41 555.60,238.01 555.70,239.05 555.80,240.56 555.90,243.47 556.00,247.05 556.10,244.34 556.20,248.94 556.30,248.54 556.40,255.58 556.50,253.12 556.60,253.51 556.70,254.64 556.80,259.02 556.90,258.88 557.00,254.79 557.10,257.53 557.20,252.70 557.30,253.54 557.40,251.41 557.50,250.62 557.60,251.59 557.70,252.19 557.80,252.58 557.90,251.90 558.00,248.39 558.10,245.22 558.20,248.10 558.30,240.75 558.40,239.69 558.50,244.13 558.60,241.76 558.70,238.11 558.80,232.48 558.90,227.01 559.00,223.52 559.10,220.38 559.20,214.60 559.30,210.36 559.40,205.29 559.50,201.22 559.60,199.09 559.70,194.14 559.80,188.92 559.90,185.54 560.00,182.71 560.10,180.61 560.20,175.01 560.30,172.77 560.40,166.85 560.50,164.47 560.60,162.81 560.70,166.37 560.80,165.78 560.90,168.84 561.00,173.67 561.10,174.39 561.20,176.66 561.30,180.72 561.40,182.58 561.50,181.13 561.60,177.86 561.70,173.15 561.80,170.95 561.90,168.19 562.00,164.73 562.10,162.26 562.20,165.32 562.30,158.82 562.40,163.21 562.50,160.64 562.60,158.67 562.70,159.02 562.80,157.13 562.90,156.02 563.00,151.21 563.10,148.92 563.20,146.36 563.30,146.83 563.40,142.97 563.50,137.81 563.60,136.11 563.70,133.70 563.80,138.22 563.90,142.57 564.00,148.84 564.10,148.77 564.20,155.83 564.30,159.38 564.40,162.36 564.50,167.07 564.60,170.87 564.70,175.57 564.80,180.20 564.90,175.49 565.00,180.45 565.10,175.98 565.20,178.92 565.30,175.70 565.40,176.44 565.50,174.10 565.60,174.21 565.70,171.11 565.80,167.70 565.90,167.78 566.00,165.71 566.10,165.61 566.20,157.51 566.30,158.01 566.40,157.71 566.50,153.45 566.60,152.01 566.70,154.14 566.80,151.34 566.90,145.96 567.00,148.01 567.10,145.95 567.20,143.63 567.30,141.32 567.40,139.43 567.50,136.00 567.60,134.90 567.70,134.44 567.80,132.31 567.90,132.86 568.00,127.72 568.10,122.76 568.20,123.82 568.30,122.76 568.40,120.96 568.50,118.52 568.60,121.27 568.70,127.24 568.80,128.70 568.90,133.72 569.00,136.35 569.10,139.08 569.20,145.31 569.30,145.04 569.40,150.79 569.50,153.60 569.60,154.26 569.70,157.68 569.80,158.25 569.90,159.55 570.00,165.14 570.10,163.51 570.20,165.41 570.30,165.89 570.40,168.19 570.50,171.39 570.60,167.47 570.70,162.86 570.80,158.13 570.90,155.24 571.00,149.03 571.10,146.12 571.20,142.08 571.30,137.45 571.40,134.16 571.50,132.05 571.60,131.09 571.70,135.50 571.80,132.72 571.90,132.91 572.00,129.97 572.10,131.04 572.20,128.84 572.30,132.99 572.40,137.44 572.50,138.22 572.60,142.01 572.70,145.02 572.80,144.99 572.90,150.36 573.00,155.04 573.10,158.95 573.20,161.11 573.30,166.06 573.40,168.84 573.50,169.92 573.60,174.30 573.70,176.84 573.80,177.41 573.90,177.79 574.00,182.89 574.10,183.06 574.20,185.24 574.30,187.13 574.40,187.81 574.50,191.61 574.60,192.78 574.70,194.96 574.80,195.66 574.90,195.36 575.00,197.81 575.10,199.96 575.20,202.04 575.30,208.21 575.40,207.91 575.50,210.42 575.60,214.98 575.70,217.00 575.80,219.51 575.90,222.15 576.00,225.64 576.10,228.88 576.20,231.20 576.30,234.30 576.40,238.56 576.50,242.55 576.60,246.13 576.70,246.61 576.80,252.45 576.90,253.63 577.00,256.07 577.10,258.34 577.20,261.02 577.30,262.42 577.40,263.30 577.50,265.25 577.60,267.67 577.70,267.01 577.80,269.36 577.90,272.23 578.00,271.31 578.10,268.62 578.20,273.25 578.30,273.03 578.40,274.40 578.50,277.14 578.60,277.19 578.70,277.01 578.80,279.74 578.90,279.98 579.00,280.42 579.10,281.32 579.20,282.78 579.30,283.16 579.40,284.21 579.50,286.12 579.60,285.93 579.70,286.71 579.80,291.63 579.90,290.62 580.00,292.16 580.10,293.22 580.20,294.67 580.30,295.89 580.40,297.17 580.50,297.98 580.60,300.64 580.70,298.51 580.80,302.26 580.90,297.77 581.00,299.99 581.10,304.33 581.20,303.03 581.30,303.73 581.40,306.78 581.50,307.58 581.60,311.19 581.70,311.00 581.80,315.33 581.90,317.93 582.00,317.55 582.10,316.60 582.20,312.70 582.30,314.81 582.40,310.22 582.50,306.69 582.60,304.79 582.70,309.03 582.80,305.25 582.90,303.01 583.00,301.44 583.10,300.64 583.20,304.31 583.30,301.97 583.40,306.23 583.50,302.77 583.60,298.98 583.70,305.91 583.80,303.99 583.90,304.77 584.00,308.93 584.10,305.75 584.20,307.30 584.30,307.57 584.40,306.98 584.50,310.08 584.60,308.81 584.70,312.99 584.80,313.28 584.90,312.39 585.00,314.19 585.10,314.89 585.20,314.10 585.30,315.79 585.40,316.65 585.50,319.46 585.60,318.74 585.70,321.86 585.80,323.90 585.90,323.70 586.00,325.83 586.10,327.23 586.20,329.93 586.30,329.35 586.40,332.41 586.50,335.35 586.60,334.30 586.70,331.81 586.80,335.92 586.90,338.57 587.00,337.21 587.10,340.73 587.20,340.87 587.30,341.53 587.40,341.31 587.50,341.87 587.60,343.69 587.70,344.56 587.80,346.14 587.90,346.54 588.00,345.64 588.10,347.03 588.20,348.33 588.30,344.69 588.40,347.11 588.50,347.66 588.60,349.53 588.70,350.00 588.80,350.65 588.90,349.95 589.00,352.72 589.10,356.65 589.20,358.82 589.30,364.35 589.40,367.77 589.50,370.46 589.60,365.41 589.70,364.48 589.80,364.34 589.90,362.77 590.00,362.00 590.10,363.99 590.20,360.47 590.30,360.58 590.40,360.10 590.50,356.44 590.60,361.41 590.70,362.16 590.80,364.67 590.90,364.27 591.00,368.76 591.10,370.33 591.20,371.13 591.30,375.13 591.40,376.31 591.50,376.14 591.60,378.18 591.70,380.74 591.80,382.40 591.90,382.68 592.00,385.10 592.10,386.83 592.20,384.79 592.30,385.17 592.40,384.97 592.50,387.97 592.60,391.64 592.70,390.71 592.80,387.82 592.90,390.22 593.00,393.85 593.10,391.24 593.20,392.96 593.30,394.06 593.40,391.14 593.50,397.43 593.60,397.48 593.70,398.89 593.80,396.64 593.90,398.02 594.00,399.31 594.10,402.02 594.20,402.45 594.30,401.25 594.40,402.84 594.50,400.56 594.60,395.49 594.70,394.19 594.80,397.07 594.90,391.97 595.00,391.83 595.10,389.65 595.20,383.82 595.30,380.81 595.40,377.89 595.50,373.44 595.60,370.60 595.70,367.48 595.80,365.85 595.90,361.11 596.00,358.25 596.10,354.78 596.20,350.51 596.30,350.86 596.40,342.99 596.50,342.36 596.60,335.45 596.70,326.52 596.80,320.21 596.90,313.01 597.00,303.97 597.10,297.02 597.20,289.73 597.30,284.66 597.40,278.02 597.50,271.79 597.60,266.37 597.70,259.35 597.80,253.71 597.90,246.83 598.00,239.35 598.10,231.84 598.20,223.64 598.30,214.08 598.40,207.50 598.50,198.35 598.60,202.24 598.70,204.20 598.80,208.84 598.90,212.60 599.00,215.32 599.10,219.29 599.20,220.10 599.30,227.80 599.40,228.99 599.50,227.55 599.60,231.48 599.70,233.48 599.80,237.70 599.90,236.88 600.00,240.79 600.10,240.35 600.20,245.05 600.30,246.91 600.40,251.37 600.50,248.87 600.60,253.75 600.70,253.40 600.80,257.43 600.90,259.87 601.00,256.86 601.10,259.17 601.20,260.53 601.30,261.30 601.40,264.22 601.50,265.19 601.60,265.67 601.70,270.07 601.80,272.35 601.90,270.18 602.00,273.80 602.10,275.57 602.20,276.53 602.30,277.06 602.40,281.37 602.50,282.87 602.60,283.97 602.70,283.70 602.80,286.60 602.90,285.50 603.00,279.89 603.10,277.78 603.20,277.13 603.30,271.76 603.40,270.95 603.50,267.93 603.60,264.33 603.70,262.68 603.80,250.31 603.90,239.03 604.00,226.59 604.10,216.83 604.20,204.82 604.30,207.64 604.40,206.24 604.50,208.62 604.60,210.01 604.70,210.17 604.80,210.70 604.90,207.23 605.00,211.09 605.10,209.62 605.20,208.90 605.30,209.75 605.40,214.12 605.50,216.31 605.60,211.52 605.70,216.33 605.80,219.50 605.90,216.64 606.00,217.49 606.10,219.31 606.20,222.52 606.30,220.70 606.40,220.21 606.50,224.23 606.60,220.25 606.70,225.84 606.80,228.96 606.90,228.21 607.00,230.20 607.10,229.86 607.20,229.50 607.30,227.01 607.40,223.83 607.50,223.49 607.60,222.34 607.70,223.32 607.80,222.55 607.90,218.42 608.00,217.08 608.10,217.76 608.20,219.66 608.30,223.97 608.40,222.14 608.50,221.87 608.60,220.86 608.70,225.31 608.80,224.05 608.90,224.30 609.00,225.19 609.10,229.52 609.20,225.59 609.30,230.55 609.40,229.99 609.50,227.65 609.60,230.16 609.70,228.27 609.80,227.10 609.90,229.46 610.00,230.72 610.10,235.04 610.20,236.72 610.30,239.85 610.40,242.57 610.50,242.23 610.60,246.29 610.70,245.18 610.80,250.12 610.90,250.60 611.00,254.08 611.10,257.96 611.20,255.46 611.30,260.09 611.40,261.97 611.50,261.42 611.60,267.18 611.70,268.37 611.80,269.67 611.90,271.44 612.00,279.18 612.10,276.07 612.20,276.14 612.30,279.47 612.40,282.36 612.50,284.41 612.60,286.93 612.70,287.63 612.80,291.46 612.90,291.80 613.00,291.74 613.10,294.08 613.20,296.24 613.30,299.74 613.40,300.54 613.50,300.58 613.60,302.60 613.70,304.35 613.80,308.83 613.90,305.80 614.00,309.04 614.10,310.89 614.20,310.64 614.30,313.17 614.40,314.92 614.50,315.76 614.60,319.10 614.70,321.58 614.80,323.52 614.90,323.33 615.00,325.49 615.10,330.75 615.20,325.81 615.30,329.34 615.40,331.71 615.50,331.58 615.60,333.66 615.70,333.99 615.80,336.19 615.90,338.30 616.00,336.85 616.10,338.76 616.20,339.57 616.30,340.78 616.40,343.12 616.50,343.26 616.60,347.79 616.70,350.97 616.80,352.74 616.90,353.89 617.00,353.35 617.10,355.70 617.20,350.58 617.30,350.87 617.40,353.46 617.50,347.09 617.60,349.69 617.70,347.71 617.80,345.96 617.90,344.90 618.00,348.62 618.10,350.48 618.20,355.02 618.30,358.07 618.40,358.01 618.50,362.17 618.60,359.19 618.70,355.37 618.80,352.58 618.90,351.06 619.00,348.01 619.10,357.47 619.20,368.06 619.30,365.33 619.40,360.17 619.50,356.97 619.60,355.93 619.70,352.19 619.80,345.86 619.90,342.65 620.00,340.84 620.10,336.47 620.20,330.16 620.30,323.36 620.40,317.29 620.50,308.74 620.60,302.25 620.70,296.36 620.80,292.96 620.90,287.31 621.00,281.37 621.10,278.35 621.20,273.78 621.30,268.39 621.40,262.45 621.50,257.13 621.60,251.81 621.70,245.29 621.80,239.71 621.90,233.50 622.00,227.45 622.10,221.27 622.20,216.21 622.30,210.02 622.40,204.23 622.50,199.17 622.60,193.05 622.70,187.28 622.80,164.18 622.90,142.25 623.00,119.63 623.10,97.20 623.20,74.80 623.30,53.12 623.40,59.06 623.50,63.98 623.60,69.64 623.70,76.31 623.80,81.93 623.90,89.23 624.00,93.13 624.10,99.21 624.20,101.67 624.30,104.01 624.40,106.17 624.50,108.97 624.60,112.67 624.70,111.56 624.80,113.30 624.90,113.73 625.00,118.31 625.10,121.10 625.20,121.66 625.30,125.52 625.40,126.04 625.50,129.95 625.60,130.14 625.70,136.51 625.80,143.86 625.90,150.47 626.00,157.47 626.10,165.71 626.20,173.17 626.30,180.89 626.40,186.88 626.50,190.97 626.60,194.52 626.70,200.51 626.80,204.29 626.90,207.74 627.00,212.80 627.10,206.20 627.20,198.12 627.30,193.04 627.40,186.05 627.50,179.10 627.60,172.52 627.70,179.27 627.80,184.45 627.90,189.99 628.00,193.24 628.10,198.93 628.20,205.36 628.30,209.21 628.40,215.09 628.50,218.48 628.60,225.89 628.70,229.77 628.80,233.81 628.90,238.13 629.00,242.14 629.10,246.66 629.20,251.98 629.30,255.69 629.40,264.80 629.50,272.11 629.60,280.10 629.70,289.38 629.80,296.84 629.90,295.00 630.00,291.36 630.10,286.74 630.20,287.39 630.30,282.70 630.40,282.93 630.50,277.40 630.60,274.51 630.70,274.23 630.80,272.87 630.90,270.63 631.00,267.03 631.10,268.07 631.20,263.07 631.30,262.62 631.40,260.37 631.50,259.12 631.60,258.97 631.70,255.15 631.80,254.44 631.90,254.18 632.00,249.10 632.10,248.83 632.20,248.95 632.30,247.46 632.40,247.77 632.50,242.96 632.60,246.13 632.70,244.12 632.80,242.50 632.90,239.41 633.00,240.77 633.10,238.82 633.20,239.70 633.30,237.57 633.40,237.94 633.50,234.95 633.60,237.14 633.70,229.72 633.80,230.91 633.90,232.47 634.00,228.03 634.10,229.92 634.20,226.56 634.30,228.14 634.40,225.48 634.50,225.54 634.60,225.85 634.70,224.52 634.80,223.20 634.90,227.03 635.00,222.29 635.10,219.68 635.20,222.34 635.30,221.33 635.40,221.25 635.50,218.97 635.60,217.52 635.70,221.96 635.80,223.05 635.90,222.02 636.00,223.41 636.10,218.70 636.20,223.89 636.30,228.96 636.40,226.03 636.50,224.57 636.60,224.38 636.70,223.39 636.80,223.55 636.90,217.02 637.00,218.31 637.10,218.12 637.20,214.83 637.30,212.99 637.40,212.89 637.50,209.85 637.60,206.57 637.70,200.48 637.80,201.05 637.90,199.29 638.00,196.10 638.10,194.02 638.20,195.37 638.30,189.11 638.40,186.58 638.50,181.82 638.60,176.08 638.70,170.73 638.80,165.54 638.90,160.79 639.00,155.07 639.10,148.71 639.20,144.14 639.30,140.25 639.40,135.14 639.50,132.12 639.60,127.48 639.70,121.70 639.80,118.43 639.90,115.44 640.00,110.76 640.10,105.11 640.20,101.54 640.30,95.93 640.40,90.96 640.50,88.04 640.60,93.41 640.70,99.03 640.80,104.10 640.90,109.78 641.00,114.64 641.10,120.76 641.20,126.45 641.30,131.27 641.40,137.31 641.50,140.96 641.60,147.08 641.70,154.06 641.80,159.26 641.90,162.29 642.00,165.53 642.10,168.01 642.20,173.09 642.30,177.03 642.40,178.50 642.50,183.96 642.60,187.21 642.70,190.73 642.80,192.50 642.90,197.43 643.00,198.74 643.10,204.95 643.20,206.86 643.30,203.17 643.40,204.05 643.50,201.62 643.60,197.20 643.70,198.50 643.80,192.37 643.90,191.78 644.00,190.65 644.10,186.02 644.20,184.37 644.30,179.82 644.40,176.30 644.50,171.75 644.60,169.49 644.70,164.60 644.80,161.17 644.90,158.31 645.00,145.07 645.10,133.02 645.20,119.02 645.30,106.21 645.40,93.35 645.50,80.45 645.60,67.71 645.70,54.71 645.80,41.32 645.90,28.28 646.00,15.42 646.10,2.76 646.20,11.36 646.30,19.39 646.40,27.27 646.50,37.93 646.60,45.97 646.70,54.26 646.80,62.92 646.90,71.12 647.00,79.57 647.10,72.86 647.20,65.97 647.30,58.79 647.40,51.36 647.50,45.07 647.60,38.63 647.70,31.07 647.80,24.41 647.90,38.86 648.00,54.51 648.10,69.62 648.20,84.37 648.30,99.31 648.40,115.04 648.50,129.65 648.60,134.49 648.70,137.79 648.80,142.74 648.90,146.00 649.00,149.08 649.10,154.36 649.20,158.36 649.30,161.83 649.40,163.18 649.50,165.83 649.60,169.83 649.70,172.76 649.80,174.90 649.90,177.80 650.00,179.74 650.10,182.68 650.20,185.39 650.30,187.17 650.40,188.97 650.50,190.97 650.60,195.85 650.70,194.57 650.80,196.13 650.90,197.85 651.00,200.18 651.10,202.43 651.20,203.51 651.30,206.62 651.40,212.74 651.50,215.43 651.60,221.21 651.70,225.37 651.80,230.45 651.90,235.13 652.00,238.16 652.10,235.76 652.20,233.42 652.30,232.60 652.40,232.46 652.50,227.86 652.60,229.63 652.70,230.59 652.80,232.73 652.90,232.07 653.00,233.83 653.10,233.41 653.20,234.89 653.30,233.67 653.40,237.93 653.50,241.38 653.60,240.02 653.70,241.38 653.80,240.09 653.90,245.23 654.00,243.47 654.10,245.16 654.20,243.27 654.30,240.58 654.40,244.50 654.50,241.93 654.60,241.91 654.70,242.12 654.80,240.71 654.90,239.56 655.00,240.20" fill="none" stroke="#000" stroke-width="0.6" stroke-linejoin="miter"/>
<g stroke="#000" stroke-width="2" fill="none">
<rect x="84.95" y="0.9" width="571.25" height="419.95"/>
<line x1="84.95" y1="420.85" x2="84.95" y2="426.05"/><line x1="136.21" y1="420.85" x2="136.21" y2="430.65"/><line x1="136.21" y1="0.9" x2="136.21" y2="10.40"/><line x1="188.14" y1="420.85" x2="188.14" y2="426.05"/><line x1="188.14" y1="0.9" x2="188.14" y2="5.80"/><line x1="240.08" y1="420.85" x2="240.08" y2="430.65"/><line x1="240.08" y1="0.9" x2="240.08" y2="10.40"/><line x1="292.01" y1="420.85" x2="292.01" y2="426.05"/><line x1="292.01" y1="0.9" x2="292.01" y2="5.80"/><line x1="343.95" y1="420.85" x2="343.95" y2="430.65"/><line x1="343.95" y1="0.9" x2="343.95" y2="10.40"/><line x1="395.89" y1="420.85" x2="395.89" y2="426.05"/><line x1="395.89" y1="0.9" x2="395.89" y2="5.80"/><line x1="447.82" y1="420.85" x2="447.82" y2="430.65"/><line x1="447.82" y1="0.9" x2="447.82" y2="10.40"/><line x1="499.76" y1="420.85" x2="499.76" y2="426.05"/><line x1="499.76" y1="0.9" x2="499.76" y2="5.80"/><line x1="551.69" y1="420.85" x2="551.69" y2="430.65"/><line x1="551.69" y1="0.9" x2="551.69" y2="10.40"/><line x1="603.63" y1="420.85" x2="603.63" y2="426.05"/><line x1="603.63" y1="0.9" x2="603.63" y2="5.80"/><line x1="656.20" y1="420.85" x2="656.20" y2="430.65"/><line x1="84.95" y1="361.01" x2="79.05" y2="361.01"/><line x1="656.2" y1="361.01" x2="651.00" y2="361.01"/><line x1="84.95" y1="301.12" x2="74.95" y2="301.12"/><line x1="656.2" y1="301.12" x2="646.40" y2="301.12"/><line x1="84.95" y1="241.23" x2="79.05" y2="241.23"/><line x1="656.2" y1="241.23" x2="651.00" y2="241.23"/><line x1="84.95" y1="181.34" x2="74.95" y2="181.34"/><line x1="656.2" y1="181.34" x2="646.40" y2="181.34"/><line x1="84.95" y1="121.45" x2="79.05" y2="121.45"/><line x1="656.2" y1="121.45" x2="651.00" y2="121.45"/><line x1="84.95" y1="61.56" x2="74.95" y2="61.56"/><line x1="656.2" y1="61.56" x2="646.40" y2="61.56"/><line x1="84.95" y1="0.90" x2="79.05" y2="0.90"/><line x1="84.95" y1="420.85" x2="74.95" y2="420.85"/>
</g>
<g font-size="21">
<text x="70" y="426.8" text-anchor="end">200</text><text x="70" y="307.0" text-anchor="end">400</text><text x="70" y="187.2" text-anchor="end">600</text><text x="70" y="66.6" text-anchor="end">800</text><text x="136.2" y="451.5" text-anchor="middle">79020</text><text x="240.1" y="451.5" text-anchor="middle">79040</text><text x="343.9" y="451.5" text-anchor="middle">79060</text><text x="447.8" y="451.5" text-anchor="middle">79080</text><text x="551.7" y="451.5" text-anchor="middle">79100</text><text x="655.6" y="451.5" text-anchor="middle">79120</text>
<text x="370" y="487.5" text-anchor="middle">Day of 1979</text>
<text x="337.4" y="34.8" text-anchor="middle" font-size="21.2">During solar maximum</text>
</g>
<text font-size="24.4" transform="translate(18.6,226.8) rotate(-90)" text-anchor="middle">speed [km/sec]</text>
</svg>
</body></html>
